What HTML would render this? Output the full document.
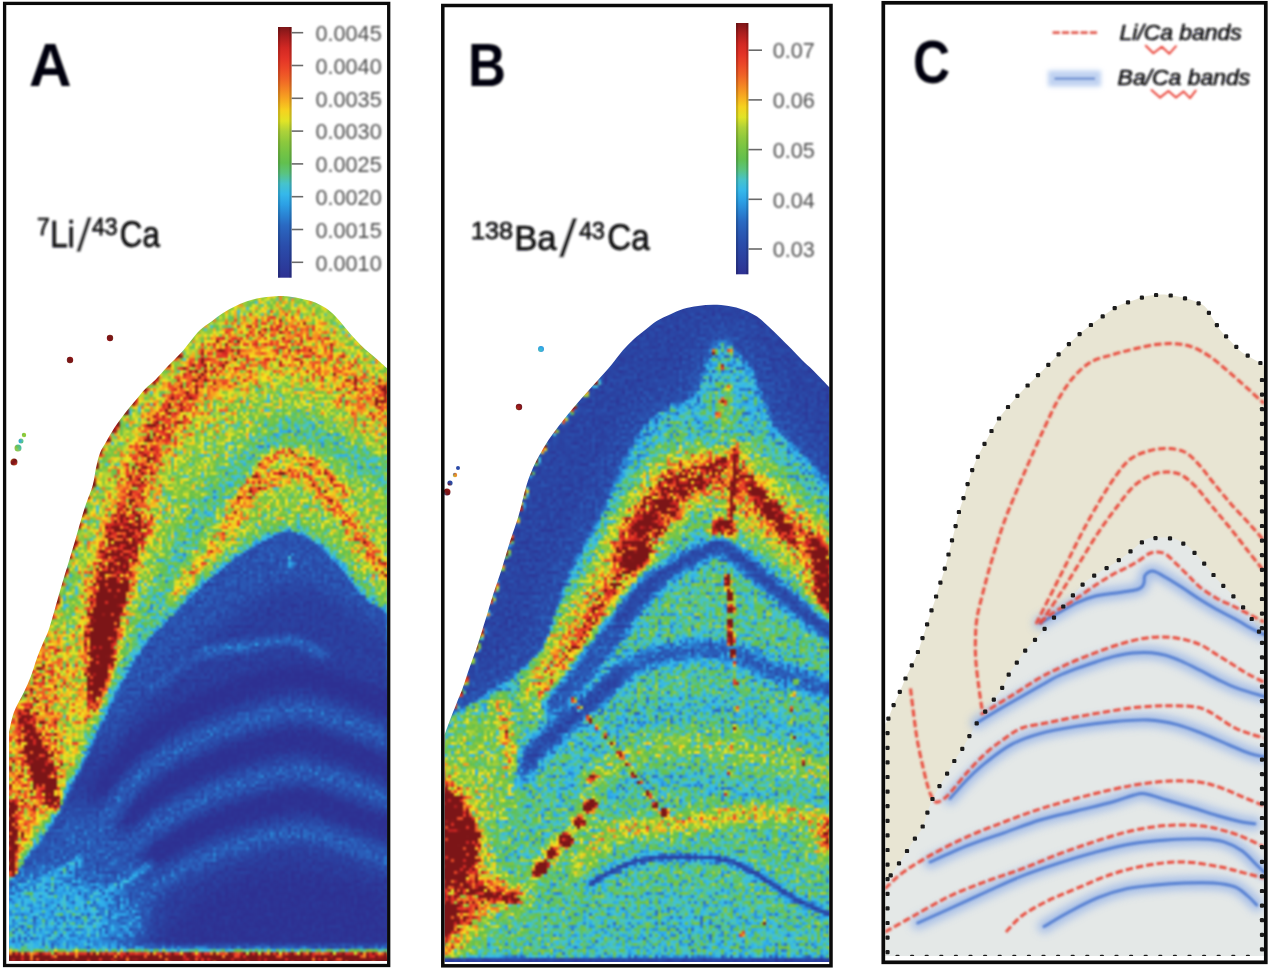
<!DOCTYPE html>
<html lang="en">
<head>
<meta charset="utf-8">
<title>Li/Ca and Ba/Ca maps</title>
<style>
html,body{margin:0;padding:0;background:#fff;}
body{width:1269px;height:970px;overflow:hidden;font-family:"Liberation Sans",sans-serif;}
svg{display:block;}
</style>
</head>
<body>
<svg width="1269" height="970" viewBox="0 0 1269 970">
<defs>
<filter id="soft05" x="-5%" y="-5%" width="110%" height="110%"><feGaussianBlur stdDeviation="0.82"/></filter>
<filter id="soft1" x="-5%" y="-5%" width="110%" height="110%"><feGaussianBlur stdDeviation="0.85"/></filter>
<filter id="glowC" x="-10%" y="-10%" width="120%" height="120%"><feGaussianBlur stdDeviation="4.2"/></filter>
<filter id="glowL" x="-30%" y="-80%" width="160%" height="260%"><feGaussianBlur stdDeviation="2.2"/></filter>
<filter id="txt" x="-5%" y="-5%" width="110%" height="110%"><feGaussianBlur stdDeviation="0.82"/></filter>
<filter id="fab1_0" filterUnits="userSpaceOnUse" x="-40" y="250" width="480" height="760" color-interpolation-filters="sRGB"><feGaussianBlur stdDeviation="1.0"/></filter>
<filter id="fab7_0" filterUnits="userSpaceOnUse" x="-40" y="250" width="480" height="760" color-interpolation-filters="sRGB"><feGaussianBlur stdDeviation="7.0"/></filter>
<filter id="fab4_0" filterUnits="userSpaceOnUse" x="-40" y="250" width="480" height="760" color-interpolation-filters="sRGB"><feGaussianBlur stdDeviation="4.0"/></filter>
<filter id="fab12_0" filterUnits="userSpaceOnUse" x="-40" y="250" width="480" height="760" color-interpolation-filters="sRGB"><feGaussianBlur stdDeviation="12.0"/></filter>
<filter id="fab9_0" filterUnits="userSpaceOnUse" x="-40" y="250" width="480" height="760" color-interpolation-filters="sRGB"><feGaussianBlur stdDeviation="9.0"/></filter>
<filter id="fab8_0" filterUnits="userSpaceOnUse" x="-40" y="250" width="480" height="760" color-interpolation-filters="sRGB"><feGaussianBlur stdDeviation="8.0"/></filter>
<filter id="fab6_0" filterUnits="userSpaceOnUse" x="-40" y="250" width="480" height="760" color-interpolation-filters="sRGB"><feGaussianBlur stdDeviation="6.0"/></filter>
<filter id="fab4_5" filterUnits="userSpaceOnUse" x="-40" y="250" width="480" height="760" color-interpolation-filters="sRGB"><feGaussianBlur stdDeviation="4.5"/></filter>
<filter id="fab3_0" filterUnits="userSpaceOnUse" x="-40" y="250" width="480" height="760" color-interpolation-filters="sRGB"><feGaussianBlur stdDeviation="3.0"/></filter>
<filter id="fab5_0" filterUnits="userSpaceOnUse" x="-40" y="250" width="480" height="760" color-interpolation-filters="sRGB"><feGaussianBlur stdDeviation="5.0"/></filter>
<filter id="fab2_5" filterUnits="userSpaceOnUse" x="-40" y="250" width="480" height="760" color-interpolation-filters="sRGB"><feGaussianBlur stdDeviation="2.5"/></filter>
<filter id="fab2_0" filterUnits="userSpaceOnUse" x="-40" y="250" width="480" height="760" color-interpolation-filters="sRGB"><feGaussianBlur stdDeviation="2.0"/></filter>
<filter id="fab3_5" filterUnits="userSpaceOnUse" x="-40" y="250" width="480" height="760" color-interpolation-filters="sRGB"><feGaussianBlur stdDeviation="3.5"/></filter>
<filter id="fab10_0" filterUnits="userSpaceOnUse" x="-40" y="250" width="480" height="760" color-interpolation-filters="sRGB"><feGaussianBlur stdDeviation="10.0"/></filter>
<filter id="fab1_2" filterUnits="userSpaceOnUse" x="-40" y="250" width="480" height="760" color-interpolation-filters="sRGB"><feGaussianBlur stdDeviation="1.2"/></filter>
<clipPath id="clipCoreA"><path d="M9 886C9.4 885.3 8.5 886.5 11.6 882C14.7 877.5 22.8 865.7 27.8 858.7C32.8 851.7 37.1 847 41.8 840C46.4 833 51.1 825.5 55.7 817C60.3 808.5 65 798.3 69.6 789C74.2 779.7 78.9 770.2 83.5 761C88.1 751.8 92.8 742.7 97.4 733.5C102 724.3 106.4 714.9 111 705.6C115.6 696.3 120.3 686.3 125 677.8C129.7 669.3 133.5 662.4 139 654.6C144.5 646.8 150.8 638.8 157.8 631C164.8 623.2 173.3 615.7 181 608C188.7 600.3 197.8 590.8 204 585C210.2 579.2 213.3 576.9 218 573C222.7 569.1 227.3 565.3 232 561.8C236.7 558.3 241.3 555.1 246 552C250.7 548.9 255.3 545.6 260 543C264.7 540.4 269.4 538.4 274 536.5C278.6 534.6 283.2 531.8 287.7 531.6C292.2 531.4 296.4 533.6 301 535.5C305.6 537.4 311.2 540 315.5 543C319.8 546 323.1 549.6 327 553.5C330.9 557.4 333.7 560.4 338.7 566.4C343.7 572.4 351.6 583.4 357 589.6C362.4 595.8 366 599.4 371 603.5C376 607.6 384.5 612.2 387.2 614L407.2 981 L-11 981 Z"/></clipPath>
<clipPath id="clipA"><path d="M9 732C9.8 728.7 11.5 718.7 14 712C16.5 705.3 21.2 698 24 692C26.8 686 28.8 681.7 31 676C33.2 670.3 35 663.5 37 658C39 652.5 40.9 648.1 43 643C45.1 637.9 46.6 636.3 49.5 627.5C52.4 618.7 56.9 601.4 60.3 590C63.6 578.6 67.1 567.2 69.6 559C72 550.8 73.2 547.2 75 541C76.8 534.8 78.6 528.2 80.4 522C82.2 515.8 83.9 510.2 86 504C88.1 497.8 91.1 491 92.8 485C94.5 479 94.8 473.3 96 468C97.2 462.7 98.3 457.3 100 453C101.7 448.7 103.6 446.2 106 442C108.4 437.8 111.3 432.6 114.4 427.8C117.5 423 121.3 417.9 124.7 413.4C128.1 408.9 131.6 405.1 135 401C138.4 396.9 142 392.3 145.4 388.7C148.8 385.1 151.9 383.2 155.7 379.4C159.5 375.6 163.9 370.3 168 366C172.1 361.7 176.6 357.8 180.4 353.6C184.2 349.4 187.4 344.9 190.7 341C194 337.1 196.5 333.3 200 330C203.5 326.7 207.7 324.2 211.5 321.4C215.3 318.6 219.1 315.5 223 313C226.9 310.5 230.8 308.4 234.7 306.5C238.6 304.6 242.2 302.9 246.3 301.5C250.4 300.1 255.1 298.8 259.5 298C263.9 297.2 269.3 296.8 272.7 296.5C276.1 296.2 277.8 296.1 280 296C282.2 295.9 282.8 295.8 286 296.2C289.2 296.6 294.8 297.3 299.2 298.2C303.6 299.1 308.1 299.9 312.5 301.5C316.9 303.1 321.8 305.5 325.7 308C329.6 310.5 332.3 313.1 335.6 316.4C338.9 319.7 342.2 324.1 345.5 328C348.8 331.9 352.2 336 355.5 339.6C358.8 343.2 362.1 346.5 365.4 349.5C368.7 352.5 371.7 354.6 375.3 357.8C378.9 361 385.2 366.7 387.2 368.5L387.2 961 L9 961 Z"/><circle cx="110" cy="338" r="3.2"/><circle cx="70" cy="360" r="3.2"/><circle cx="18" cy="448" r="3.5"/><circle cx="14" cy="462" r="3.5"/><circle cx="24" cy="435" r="2.2"/><circle cx="21" cy="441" r="2.5"/></clipPath>
<filter id="jetA" filterUnits="userSpaceOnUse" x="0" y="280" width="400" height="690" color-interpolation-filters="sRGB">
<feTurbulence type="fractalNoise" baseFrequency="0.24" numOctaves="2" seed="4" result="t"/>
<feColorMatrix in="t" type="matrix" values="2.00 0 0 0 -0.50  2.00 0 0 0 -0.50  2.00 0 0 0 -0.50  0 0 0 0 1" result="n"/>
<feComposite in="SourceGraphic" in2="n" operator="arithmetic" k1="0.660" k2="0.670" k3="0.038" k4="-0.019" result="v"/>
<feColorMatrix in="v" type="matrix" values="1 0 0 0 0  1 0 0 0 0  1 0 0 0 0  0 0 0 0 1" result="v1"/>
<feComponentTransfer in="v1" result="c">
<feFuncR type="table" tableValues="0.180 0.175 0.171 0.168 0.166 0.165 0.165 0.165 0.165 0.165 0.165 0.169 0.176 0.201 0.232 0.274 0.322 0.364 0.378 0.413 0.461 0.508 0.578 0.653 0.751 0.882 0.962 0.964 0.967 0.967 0.957 0.947 0.937 0.927 0.918 0.890 0.851 0.812 0.714 0.602 0.490 0.490 0.490 0.490 0.490 0.490 0.490 0.490 0.490 0.490 0.490 0.490 0.490"/>
<feFuncG type="table" tableValues="0.192 0.215 0.238 0.260 0.281 0.302 0.331 0.361 0.392 0.454 0.516 0.582 0.651 0.705 0.745 0.765 0.769 0.767 0.757 0.759 0.769 0.778 0.796 0.816 0.846 0.893 0.885 0.793 0.701 0.611 0.527 0.443 0.367 0.304 0.241 0.200 0.173 0.146 0.125 0.106 0.086 0.086 0.086 0.086 0.086 0.086 0.086 0.086 0.086 0.086 0.086 0.086 0.086"/>
<feFuncB type="table" tableValues="0.573 0.594 0.615 0.634 0.653 0.671 0.695 0.720 0.745 0.788 0.830 0.871 0.910 0.920 0.890 0.802 0.627 0.449 0.341 0.286 0.267 0.247 0.235 0.225 0.199 0.148 0.119 0.121 0.124 0.127 0.136 0.144 0.150 0.153 0.156 0.152 0.143 0.135 0.122 0.108 0.094 0.094 0.094 0.094 0.094 0.094 0.094 0.094 0.094 0.094 0.094 0.094 0.094"/>
</feComponentTransfer>
<feFlood x="1" y="281" width="1" height="1" flood-color="#000" result="px"/>
<feComposite in="px" in2="px" operator="over" x="0" y="280" width="3" height="3" result="cell"/>
<feTile in="cell" result="grid"/>
<feComposite in="c" in2="grid" operator="in" result="samp"/>
<feMorphology in="samp" operator="dilate" radius="1" result="blk"/>
<feGaussianBlur in="blk" stdDeviation="0.95"/>
</filter>
<filter id="fbb1_0" filterUnits="userSpaceOnUse" x="400" y="250" width="480" height="760" color-interpolation-filters="sRGB"><feGaussianBlur stdDeviation="1.0"/></filter>
<filter id="fbb9_0" filterUnits="userSpaceOnUse" x="400" y="250" width="480" height="760" color-interpolation-filters="sRGB"><feGaussianBlur stdDeviation="9.0"/></filter>
<filter id="fbb2_2" filterUnits="userSpaceOnUse" x="400" y="250" width="480" height="760" color-interpolation-filters="sRGB"><feGaussianBlur stdDeviation="2.2"/></filter>
<filter id="fbb7_0" filterUnits="userSpaceOnUse" x="400" y="250" width="480" height="760" color-interpolation-filters="sRGB"><feGaussianBlur stdDeviation="7.0"/></filter>
<filter id="fbb8_0" filterUnits="userSpaceOnUse" x="400" y="250" width="480" height="760" color-interpolation-filters="sRGB"><feGaussianBlur stdDeviation="8.0"/></filter>
<filter id="fbb6_0" filterUnits="userSpaceOnUse" x="400" y="250" width="480" height="760" color-interpolation-filters="sRGB"><feGaussianBlur stdDeviation="6.0"/></filter>
<filter id="fbb4_5" filterUnits="userSpaceOnUse" x="400" y="250" width="480" height="760" color-interpolation-filters="sRGB"><feGaussianBlur stdDeviation="4.5"/></filter>
<filter id="fbb3_0" filterUnits="userSpaceOnUse" x="400" y="250" width="480" height="760" color-interpolation-filters="sRGB"><feGaussianBlur stdDeviation="3.0"/></filter>
<filter id="fbb5_0" filterUnits="userSpaceOnUse" x="400" y="250" width="480" height="760" color-interpolation-filters="sRGB"><feGaussianBlur stdDeviation="5.0"/></filter>
<filter id="fbb2_5" filterUnits="userSpaceOnUse" x="400" y="250" width="480" height="760" color-interpolation-filters="sRGB"><feGaussianBlur stdDeviation="2.5"/></filter>
<filter id="fbb3_5" filterUnits="userSpaceOnUse" x="400" y="250" width="480" height="760" color-interpolation-filters="sRGB"><feGaussianBlur stdDeviation="3.5"/></filter>
<filter id="fbb1_4" filterUnits="userSpaceOnUse" x="400" y="250" width="480" height="760" color-interpolation-filters="sRGB"><feGaussianBlur stdDeviation="1.4"/></filter>
<filter id="fbb3_2" filterUnits="userSpaceOnUse" x="400" y="250" width="480" height="760" color-interpolation-filters="sRGB"><feGaussianBlur stdDeviation="3.2"/></filter>
<filter id="fbb4_0" filterUnits="userSpaceOnUse" x="400" y="250" width="480" height="760" color-interpolation-filters="sRGB"><feGaussianBlur stdDeviation="4.0"/></filter>
<filter id="fbb1_3" filterUnits="userSpaceOnUse" x="400" y="250" width="480" height="760" color-interpolation-filters="sRGB"><feGaussianBlur stdDeviation="1.3"/></filter>
<filter id="fbb2_8" filterUnits="userSpaceOnUse" x="400" y="250" width="480" height="760" color-interpolation-filters="sRGB"><feGaussianBlur stdDeviation="2.8"/></filter>
<filter id="fbb1_6" filterUnits="userSpaceOnUse" x="400" y="250" width="480" height="760" color-interpolation-filters="sRGB"><feGaussianBlur stdDeviation="1.6"/></filter>
<filter id="fbb1_2" filterUnits="userSpaceOnUse" x="400" y="250" width="480" height="760" color-interpolation-filters="sRGB"><feGaussianBlur stdDeviation="1.2"/></filter>
<clipPath id="clipInB"><path d="M440 725C443.7 722.3 453.3 714.8 462 709C470.7 703.2 482.7 696.2 492 690C501.3 683.8 510.3 678 518 672C525.7 666 532.8 660.3 538 654C543.2 647.7 546.1 640.7 549 634C551.9 627.3 553.2 620.5 555.5 613.7C557.8 606.9 560.2 599.5 562.5 593C564.8 586.5 567.1 580.8 569.5 575C571.9 569.2 574.1 563.8 577 558C579.9 552.2 583.4 546.3 587 540C590.6 533.7 594.9 526.7 598.5 520C602.1 513.3 605.5 507 608.5 500C611.5 493 613.7 485 616.5 478C619.3 471 622.2 464.3 625.5 458C628.8 451.7 632.2 445.8 636 440C639.8 434.2 643.7 428 648 423C652.3 418 656.5 413.5 662 410C667.5 406.5 675.2 404.6 681 402C686.8 399.4 693 398.9 696.7 394.6C700.4 390.3 700.5 382.4 703 376C705.5 369.6 708.8 361.7 712 356C715.2 350.3 718.5 343 722 342C725.5 341 729.2 346.7 733 350C736.8 353.3 741.2 357 745 362C748.8 367 752.8 373.3 756 380C759.2 386.7 761 394.5 764 402C767 409.5 769.7 418.5 774 425C778.3 431.5 784 434.8 790 441C796 447.2 802.5 454.2 810 462C817.5 469.8 830.8 483.7 835 488L859.6 992 L414.6 992 Z"/></clipPath>
<clipPath id="clipB"><path d="M444.6 735C445.4 732.7 447.6 726.3 449.6 721C451.6 715.7 454.5 708.5 456.7 703C458.9 697.5 460.7 693.6 462.7 688C464.7 682.4 466.5 676.3 468.9 669.4C471.3 662.5 474.2 654.9 477 646.7C479.8 638.5 482.6 629 485.4 620C488.2 611 490.9 601.6 493.6 593C496.4 584.4 499.2 577 501.9 568.4C504.6 559.8 507.2 550.2 510 541.5C512.8 532.8 515.8 525.1 518.5 516C521.2 506.9 523.7 494.8 526 487C528.3 479.2 530.2 474.3 532.5 469C534.8 463.7 536.8 459.8 539.5 455C542.2 450.2 545.2 445 548.5 440C551.8 435 555.7 430 559.5 425C563.3 420 567.3 415 571.5 410C575.7 405 580.1 400 584.5 395C588.9 390 593.5 385 598 380C602.5 375 607.2 369.9 611.3 365C615.4 360.1 618.9 354.8 622.7 350.5C626.5 346.2 630.2 342.5 634 339C637.8 335.5 641.6 332.7 645.4 329.7C649.2 326.7 652.6 323.5 656.7 321C660.8 318.5 665.6 316.6 670 314.6C674.4 312.6 678.3 310.4 683 309C687.7 307.6 692.9 306.7 698 306C703.1 305.3 708.4 304.8 713.5 304.8C718.6 304.8 723.6 305.1 728.6 306C733.6 306.9 739 308.1 743.7 309.9C748.4 311.6 753 313.8 757 316.5C761 319.2 764.2 322.5 768 326C771.8 329.5 775.9 333.5 779.7 337.3C783.5 341.1 787.3 344.8 791 348.6C794.7 352.4 798.2 356.3 802 360C805.8 363.7 809.1 366.4 813.7 371C818.3 375.6 827 384.8 829.6 387.5L829.6 962 L444.6 962 Z"/><circle cx="519" cy="407" r="3.2"/><circle cx="541" cy="349" r="3"/><circle cx="447" cy="492" r="3.5"/><circle cx="450" cy="483" r="2.6"/><circle cx="455" cy="475" r="2.2"/><circle cx="458" cy="468" r="2"/></clipPath>
<filter id="jetB" filterUnits="userSpaceOnUse" x="430" y="280" width="420" height="700" color-interpolation-filters="sRGB">
<feTurbulence type="fractalNoise" baseFrequency="0.24" numOctaves="2" seed="11" result="t"/>
<feColorMatrix in="t" type="matrix" values="2.00 0 0 0 -0.50  2.00 0 0 0 -0.50  2.00 0 0 0 -0.50  0 0 0 0 1" result="n"/>
<feComposite in="SourceGraphic" in2="n" operator="arithmetic" k1="0.680" k2="0.660" k3="0.046" k4="-0.023" result="v"/>
<feColorMatrix in="v" type="matrix" values="1 0 0 0 0  1 0 0 0 0  1 0 0 0 0  0 0 0 0 1" result="v1"/>
<feComponentTransfer in="v1" result="c">
<feFuncR type="table" tableValues="0.180 0.175 0.171 0.168 0.166 0.165 0.165 0.165 0.165 0.165 0.165 0.169 0.176 0.201 0.232 0.274 0.322 0.364 0.378 0.413 0.461 0.508 0.578 0.653 0.751 0.882 0.962 0.964 0.967 0.967 0.957 0.947 0.937 0.927 0.918 0.890 0.851 0.812 0.714 0.602 0.490 0.490 0.490 0.490 0.490 0.490 0.490 0.490 0.490 0.490 0.490 0.490 0.490"/>
<feFuncG type="table" tableValues="0.192 0.215 0.238 0.260 0.281 0.302 0.331 0.361 0.392 0.454 0.516 0.582 0.651 0.705 0.745 0.765 0.769 0.767 0.757 0.759 0.769 0.778 0.796 0.816 0.846 0.893 0.885 0.793 0.701 0.611 0.527 0.443 0.367 0.304 0.241 0.200 0.173 0.146 0.125 0.106 0.086 0.086 0.086 0.086 0.086 0.086 0.086 0.086 0.086 0.086 0.086 0.086 0.086"/>
<feFuncB type="table" tableValues="0.573 0.594 0.615 0.634 0.653 0.671 0.695 0.720 0.745 0.788 0.830 0.871 0.910 0.920 0.890 0.802 0.627 0.449 0.341 0.286 0.267 0.247 0.235 0.225 0.199 0.148 0.119 0.121 0.124 0.127 0.136 0.144 0.150 0.153 0.156 0.152 0.143 0.135 0.122 0.108 0.094 0.094 0.094 0.094 0.094 0.094 0.094 0.094 0.094 0.094 0.094 0.094 0.094"/>
</feComponentTransfer>
<feFlood x="431" y="281" width="1" height="1" flood-color="#000" result="px"/>
<feComposite in="px" in2="px" operator="over" x="430" y="280" width="3" height="3" result="cell"/>
<feTile in="cell" result="grid"/>
<feComposite in="c" in2="grid" operator="in" result="samp"/>
<feMorphology in="samp" operator="dilate" radius="1" result="blk"/>
<feGaussianBlur in="blk" stdDeviation="0.95"/>
</filter>
</defs>
<rect width="1269" height="970" fill="#fff"/>
<g clip-path="url(#clipA)"><g filter="url(#jetA)">
<rect x="0" y="280" width="400" height="690" fill="#686868"/>
<path d="M0 280H400V970H0Z" fill="#686868"/>
<path d="M0 700 L30 655 L50 625 L64 640 L70 690 L84 740 L100 760 L60 830 L0 900Z" fill="#919191" filter="url(#fab7_0)"/>
<path d="M66 572C67 575 71.3 583.7 72 590C72.7 596.3 70.3 606.7 70 610" fill="none" stroke="#474747" stroke-width="9" stroke-linecap="round" stroke-linejoin="round" filter="url(#fab4_0)"/>
<path d="M185.6 389C188.8 384.8 197.9 371.2 205 364C212.1 356.8 219.7 350.8 228 346C236.3 341.2 245.5 337.5 255 335C264.5 332.5 275 330.7 285 331C295 331.3 305.8 333.7 315 337C324.2 340.3 332.2 345 340 351C347.8 357 354.2 365.3 362 373C369.8 380.7 382.8 393 387 397" fill="none" stroke="#787878" stroke-width="104" stroke-linecap="round" stroke-linejoin="round" filter="url(#fab12_0)"/>
<path d="M98 722C98.2 718.3 98.8 708 99 700C99.2 692 99 683.5 99 674C99 664.5 98.5 653.8 99 643C99.5 632.2 100.5 619.8 102 609C103.5 598.2 105.4 588.8 108 578C110.6 567.2 114.4 554.8 117.5 544C120.6 533.2 123.7 522.8 126.8 513C129.9 503.2 132.4 495.3 136 485C139.6 474.7 143.3 462.3 148.5 451C153.7 439.7 160.8 427.3 167 417C173.2 406.7 179.3 397.8 185.6 389C191.9 380.2 197.9 371.2 205 364C212.1 356.8 219.7 350.8 228 346C236.3 341.2 245.5 337.5 255 335C264.5 332.5 275 330.7 285 331C295 331.3 305.8 333.7 315 337C324.2 340.3 332.2 345 340 351C347.8 357 354.2 365.3 362 373C369.8 380.7 382.8 393 387 397" fill="none" stroke="#858585" stroke-width="50" stroke-linecap="round" stroke-linejoin="round" filter="url(#fab9_0)"/>
<path d="M215 372C220.8 368.7 238.3 356.3 250 352C261.7 347.7 273.3 346 285 346C296.7 346 309.2 348 320 352C330.8 356 338.8 361.3 350 370C361.2 378.7 380.8 398.3 387 404" fill="none" stroke="#8d8d8d" stroke-width="50" stroke-linecap="round" stroke-linejoin="round" filter="url(#fab9_0)"/>
<path d="M167 417C170.1 412.3 179.3 397.8 185.6 389C191.9 380.2 197.9 371.2 205 364C212.1 356.8 219.7 350.8 228 346C236.3 341.2 245.5 337.5 255 335C264.5 332.5 275 330.7 285 331C295 331.3 305.8 333.7 315 337C324.2 340.3 332.2 345 340 351C347.8 357 354.2 365.3 362 373C369.8 380.7 382.8 393 387 397" fill="none" stroke="#8f8f8f" stroke-width="38" stroke-linecap="round" stroke-linejoin="round" filter="url(#fab8_0)"/>
<path d="M114.4 427.8C116.1 425.4 121.3 417.9 124.7 413.4C128.1 408.9 131.6 405.1 135 401C138.4 396.9 142 392.3 145.4 388.7C148.8 385.1 151.9 383.2 155.7 379.4C159.5 375.6 163.9 370.3 168 366C172.1 361.7 176.6 357.8 180.4 353.6C184.2 349.4 187.4 344.9 190.7 341C194 337.1 196.5 333.3 200 330C203.5 326.7 207.7 324.2 211.5 321.4C215.3 318.6 219.1 315.5 223 313C226.9 310.5 230.8 308.4 234.7 306.5C238.6 304.6 242.2 302.9 246.3 301.5C250.4 300.1 255.1 298.8 259.5 298C263.9 297.2 269.3 296.8 272.7 296.5C276.1 296.2 277.8 296.1 280 296C282.2 295.9 282.8 295.8 286 296.2C289.2 296.6 294.8 297.3 299.2 298.2C303.6 299.1 308.1 299.9 312.5 301.5C316.9 303.1 321.8 305.5 325.7 308C329.6 310.5 332.3 313.1 335.6 316.4C338.9 319.7 342.2 324.1 345.5 328C348.8 331.9 352.2 336 355.5 339.6C358.8 343.2 362.1 346.5 365.4 349.5C368.7 352.5 371.7 354.6 375.3 357.8C378.9 361 385.2 366.7 387.2 368.5" fill="none" stroke="#6e6e6e" stroke-width="30" stroke-linecap="round" stroke-linejoin="round" filter="url(#fab6_0)"/>
<path d="M98 722C98.2 718.3 98.8 708 99 700C99.2 692 99 683.5 99 674C99 664.5 98.5 653.8 99 643C99.5 632.2 100.5 619.8 102 609C103.5 598.2 105.4 588.8 108 578C110.6 567.2 114.4 554.8 117.5 544C120.6 533.2 123.7 522.8 126.8 513C129.9 503.2 132.4 495.3 136 485C139.6 474.7 143.3 462.3 148.5 451C153.7 439.7 160.8 427.3 167 417C173.2 406.7 179.3 397.8 185.6 389C191.9 380.2 201.8 368.2 205 364" fill="none" stroke="#a5a5a5" stroke-width="24" stroke-linecap="round" stroke-linejoin="round" filter="url(#fab4_5)"/>
<path d="M185.6 389C188.8 384.8 197.9 371.2 205 364C212.1 356.8 224.2 349 228 346" fill="none" stroke="#9d9d9d" stroke-width="18" stroke-linecap="round" stroke-linejoin="round" filter="url(#fab6_0)"/>
<path d="M112 520C104.5 523.3 109 531.7 107 540C105 548.3 102.3 559.7 100 570C97.7 580.3 94.9 589.8 93 602C91.1 614.2 89.1 629.3 88.7 643C88.3 656.7 89.8 672.8 90.7 684C91.6 695.2 93 703.2 94 710C95 716.8 95.3 725 97 725C98.7 725 101.7 716.8 104 710C106.3 703.2 109.1 695.2 111 684C112.9 672.8 113.3 656.7 115.5 643C117.7 629.3 120.9 614.2 124 602C127.1 589.8 130.7 580.3 134 570C137.3 559.7 141 548.3 144 540C147 531.7 157.3 523.3 152 520C146.7 516.7 119.5 516.7 112 520Z" fill="#c0c0c0" filter="url(#fab4_0)"/>
<path d="M104 585C98.7 589.2 98.1 600.3 96 610C93.9 619.7 92 630.7 91.5 643C91 655.3 92.1 671.2 93 684C93.9 696.8 94.5 720 97 720C99.5 720 105.4 696.8 108 684C110.6 671.2 110.5 655.3 112.5 643C114.5 630.7 117.4 619.7 120 610C122.6 600.3 130.7 589.2 128 585C125.3 580.8 109.3 580.8 104 585Z" fill="#ffffff" filter="url(#fab3_0)"/>
<ellipse cx="386" cy="396" rx="10" ry="16" fill="#b1b1b1" filter="url(#fab5_0)"/>
<path d="M100 735C102 730 107.3 715.5 112 705C116.7 694.5 123 682.8 128 672C133 661.2 137.6 650.5 142 640C146.4 629.5 149.4 620.4 154.6 609C159.8 597.6 166.8 584.2 173 571.8C179.2 559.4 185.6 546 191.8 534.6C198 523.2 202.8 514 210 503.7C217.2 493.4 226.2 482.1 235 472.8C243.8 463.5 253.8 455.5 263 448C272.2 440.5 280.5 429.7 290 428C299.5 426.3 310 433.5 320 438C330 442.5 338.8 448.3 350 455C361.2 461.7 380.8 474.2 387 478" fill="none" stroke="#4e4e4e" stroke-width="24" stroke-linecap="round" stroke-linejoin="round" filter="url(#fab7_0)"/>
<path d="M179.4 596.5C181.5 593.4 186.7 585.2 191.8 578C196.9 570.8 203.8 561.2 210 553C216.2 544.8 224.1 536.2 229 528.5C233.9 520.8 234.9 513.2 239.7 506.6C244.5 500 251.2 493.9 257.8 488.6C264.4 483.3 272.8 477.6 279.4 475C286 472.4 291.5 471.3 297.5 473C303.5 474.7 309.5 480 315.5 485C321.5 490 327.6 496.4 333.6 503C339.6 509.6 345.6 516.9 351.6 524.7C357.6 532.5 363.8 541.8 369.7 550C375.6 558.2 384.1 570 387 574" fill="none" stroke="#7e7e7e" stroke-width="20" stroke-linecap="round" stroke-linejoin="round" filter="url(#fab5_0)"/>
<path d="M238 500.6C240.6 497.5 249.1 488.4 253.6 482C258.1 475.6 259.5 467 265 462C270.5 457 279.4 452.4 286.6 452C293.8 451.6 302 456.6 308 459.7C314 462.8 316.5 465.1 322.7 470.5C328.9 475.9 341.3 488.4 345 492" fill="none" stroke="#9d9d9d" stroke-width="9" stroke-linecap="round" stroke-linejoin="round" filter="url(#fab2_5)"/>
<path d="M229 528.5C230.8 524.9 234.9 513.2 239.7 506.6C244.5 500 251.2 493.9 257.8 488.6C264.4 483.3 272.8 477.6 279.4 475C286 472.4 291.5 471.3 297.5 473C303.5 474.7 309.5 480 315.5 485C321.5 490 327.6 496.4 333.6 503C339.6 509.6 345.6 516.9 351.6 524.7C357.6 532.5 363.8 541.8 369.7 550C375.6 558.2 384.1 570 387 574" fill="none" stroke="#9d9d9d" stroke-width="9" stroke-linecap="round" stroke-linejoin="round" filter="url(#fab2_5)"/>
<path d="M179.4 596.5C181.5 593.4 186.7 585.2 191.8 578C196.9 570.8 203.8 561.2 210 553C216.2 544.8 224.1 536.2 229 528.5C233.9 520.8 237.9 510.2 239.7 506.6" fill="none" stroke="#898989" stroke-width="8" stroke-linecap="round" stroke-linejoin="round" filter="url(#fab3_0)"/>
<path d="M9 886C9.4 885.3 8.5 886.5 11.6 882C14.7 877.5 22.8 865.7 27.8 858.7C32.8 851.7 37.1 847 41.8 840C46.4 833 51.1 825.5 55.7 817C60.3 808.5 65 798.3 69.6 789C74.2 779.7 78.9 770.2 83.5 761C88.1 751.8 92.8 742.7 97.4 733.5C102 724.3 106.4 714.9 111 705.6C115.6 696.3 120.3 686.3 125 677.8C129.7 669.3 133.5 662.4 139 654.6C144.5 646.8 150.8 638.8 157.8 631C164.8 623.2 173.3 615.7 181 608C188.7 600.3 197.8 590.8 204 585C210.2 579.2 213.3 576.9 218 573C222.7 569.1 227.3 565.3 232 561.8C236.7 558.3 241.3 555.1 246 552C250.7 548.9 255.3 545.6 260 543C264.7 540.4 269.4 538.4 274 536.5C278.6 534.6 283.2 531.8 287.7 531.6C292.2 531.4 296.4 533.6 301 535.5C305.6 537.4 311.2 540 315.5 543C319.8 546 323.1 549.6 327 553.5C330.9 557.4 333.7 560.4 338.7 566.4C343.7 572.4 351.6 583.4 357 589.6C362.4 595.8 366 599.4 371 603.5C376 607.6 384.5 612.2 387.2 614" fill="none" stroke="#4b4b4b" stroke-width="16" stroke-linecap="round" stroke-linejoin="round" filter="url(#fab4_0)"/>
<path d="M25 716C26.2 720.3 29.5 733.3 32 742C34.5 750.7 37.3 760 40 768C42.7 776 45.3 783.7 48 790C50.7 796.3 54.7 803.3 56 806" fill="none" stroke="#d8d8d8" stroke-width="14" stroke-linecap="round" stroke-linejoin="round" filter="url(#fab3_0)"/>
<ellipse cx="40" cy="764" rx="10" ry="30" fill="#f5f5f5" transform="rotate(-17 40 764)" filter="url(#fab3_0)"/>
<path d="M11 800 L12 876" fill="none" stroke="#f5f5f5" stroke-width="9" stroke-linecap="butt" stroke-linejoin="round" filter="url(#fab2_0)"/>
<path d="M62 700C63.3 706.7 67.8 728.3 70 740C72.2 751.7 74.2 765 75 770" fill="none" stroke="#727272" stroke-width="12" stroke-linecap="round" stroke-linejoin="round" filter="url(#fab5_0)"/>
<path d="M9 886C9.4 885.3 8.5 886.5 11.6 882C14.7 877.5 22.8 865.7 27.8 858.7C32.8 851.7 37.1 847 41.8 840C46.4 833 51.1 825.5 55.7 817C60.3 808.5 65 798.3 69.6 789C74.2 779.7 78.9 770.2 83.5 761C88.1 751.8 92.8 742.7 97.4 733.5C102 724.3 106.4 714.9 111 705.6C115.6 696.3 120.3 686.3 125 677.8C129.7 669.3 133.5 662.4 139 654.6C144.5 646.8 150.8 638.8 157.8 631C164.8 623.2 173.3 615.7 181 608C188.7 600.3 197.8 590.8 204 585C210.2 579.2 213.3 576.9 218 573C222.7 569.1 227.3 565.3 232 561.8C236.7 558.3 241.3 555.1 246 552C250.7 548.9 255.3 545.6 260 543C264.7 540.4 269.4 538.4 274 536.5C278.6 534.6 283.2 531.8 287.7 531.6C292.2 531.4 296.4 533.6 301 535.5C305.6 537.4 311.2 540 315.5 543C319.8 546 323.1 549.6 327 553.5C330.9 557.4 333.7 560.4 338.7 566.4C343.7 572.4 351.6 583.4 357 589.6C362.4 595.8 366 599.4 371 603.5C376 607.6 384.5 612.2 387.2 614L407.2 981 L-11 981 Z" fill="#0c0c0c" filter="url(#fab2_0)"/>
<g clip-path="url(#clipCoreA)">
<path d="M100 760C108.3 748.3 133.3 710 150 690C166.7 670 175.5 657.5 200 640C224.5 622.5 265 585 297 585C329 585 376.2 630.8 392 640L392 500L100 500Z" fill="#1c1c1c" filter="url(#fab9_0)"/>
<path d="M204 652C211.7 651 235.7 648 250 646C264.3 644 277.5 638.5 290 640C302.5 641.5 319.2 652.5 325 655" fill="none" stroke="#353535" stroke-width="7" stroke-linecap="round" stroke-linejoin="round" filter="url(#fab3_5)"/>
<path d="M150 690C158.3 684.2 183.3 662.5 200 655C216.7 647.5 241.7 646.7 250 645" fill="none" stroke="#272727" stroke-width="8" stroke-linecap="round" stroke-linejoin="round" filter="url(#fab4_0)"/>
<path d="M60 891C63.3 881.8 72.5 853.5 80 836C87.5 818.5 95 801.7 105 786C115 770.3 126.7 754.3 140 742C153.3 729.7 168.3 720.8 185 712C201.7 703.2 221.3 695 240 689C258.7 683 280.3 676.5 297 676C313.7 675.5 324.2 681 340 686C355.8 691 383.3 702.7 392 706" fill="none" stroke="#000000" stroke-width="22" stroke-linecap="round" stroke-linejoin="round" filter="url(#fab6_0)"/>
<path d="M60 955C63.3 945.8 72.5 917.5 80 900C87.5 882.5 95 865.7 105 850C115 834.3 126.7 818.3 140 806C153.3 793.7 168.3 784.8 185 776C201.7 767.2 221.3 759 240 753C258.7 747 280.3 740.5 297 740C313.7 739.5 324.2 745 340 750C355.8 755 383.3 766.7 392 770" fill="none" stroke="#000000" stroke-width="22" stroke-linecap="round" stroke-linejoin="round" filter="url(#fab6_0)"/>
<path d="M60 1015C63.3 1005.8 72.5 977.5 80 960C87.5 942.5 95 925.7 105 910C115 894.3 126.7 878.3 140 866C153.3 853.7 168.3 844.8 185 836C201.7 827.2 221.3 819 240 813C258.7 807 280.3 800.5 297 800C313.7 799.5 324.2 805 340 810C355.8 815 383.3 826.7 392 830" fill="none" stroke="#000000" stroke-width="22" stroke-linecap="round" stroke-linejoin="round" filter="url(#fab6_0)"/>
<path d="M60 925C63.3 915.8 72.5 887.5 80 870C87.5 852.5 95 835.7 105 820C115 804.3 126.7 788.3 140 776C153.3 763.7 168.3 754.8 185 746C201.7 737.2 221.3 729 240 723C258.7 717 280.3 710.5 297 710C313.7 709.5 324.2 715 340 720C355.8 725 383.3 736.7 392 740" fill="none" stroke="#242424" stroke-width="19" stroke-linecap="round" stroke-linejoin="round" filter="url(#fab6_0)"/>
<path d="M60 986C63.3 976.8 72.5 948.5 80 931C87.5 913.5 95 896.7 105 881C115 865.3 126.7 849.3 140 837C153.3 824.7 168.3 815.8 185 807C201.7 798.2 221.3 790 240 784C258.7 778 280.3 771.5 297 771C313.7 770.5 324.2 776 340 781C355.8 786 383.3 797.7 392 801" fill="none" stroke="#242424" stroke-width="19" stroke-linecap="round" stroke-linejoin="round" filter="url(#fab6_0)"/>
<path d="M60 1047C63.3 1037.8 72.5 1009.5 80 992C87.5 974.5 95 957.7 105 942C115 926.3 126.7 910.3 140 898C153.3 885.7 168.3 876.8 185 868C201.7 859.2 221.3 851 240 845C258.7 839 280.3 832.5 297 832C313.7 831.5 324.2 837 340 842C355.8 847 383.3 858.7 392 862" fill="none" stroke="#242424" stroke-width="19" stroke-linecap="round" stroke-linejoin="round" filter="url(#fab6_0)"/>
<path d="M150 965C156.7 955 175 919.5 190 905C205 890.5 222.2 884.2 240 878C257.8 871.8 271.7 866 297 868C322.3 870 376.2 886.3 392 890L392 965Z" fill="#020202" filter="url(#fab9_0)"/>
<path d="M0 880 L30 850 L62 812 L90 800 L120 830 L150 880 L150 930 L100 952 L0 952Z" fill="#212121" filter="url(#fab10_0)"/>
<path d="M0 885 L40 868 L100 880 L140 905 L140 940 L100 952 L0 952Z" fill="#313131" filter="url(#fab8_0)"/>
<path d="M0 895 L40 880 L85 890 L110 912 L100 940 L0 952Z" fill="#3d3d3d" filter="url(#fab6_0)"/>
<path d="M15 935C22.5 931.7 44.2 922.5 60 915C75.8 907.5 95 898.3 110 890C125 881.7 143.3 869.2 150 865" fill="none" stroke="#3f3f3f" stroke-width="7" stroke-linecap="round" stroke-linejoin="round" filter="url(#fab3_0)"/>
<path d="M20 905C25 900.8 40 887.5 50 880C60 872.5 75 863.3 80 860" fill="none" stroke="#434343" stroke-width="8" stroke-linecap="round" stroke-linejoin="round" filter="url(#fab3_0)"/>
<ellipse cx="290" cy="562" rx="3" ry="10" fill="#3b3b3b" filter="url(#fab2_0)"/>
</g>
<path d="M180.4 353.6C178.3 355.7 172.1 361.7 168 366C163.9 370.3 159.5 375.6 155.7 379.4C151.9 383.2 148.8 385.1 145.4 388.7C142 392.3 138.4 396.9 135 401C131.6 405.1 128.1 408.9 124.7 413.4C121.3 417.9 117.5 423 114.4 427.8C111.3 432.6 108.4 437.8 106 442C103.6 446.2 101.7 448.7 100 453C98.3 457.3 97.2 462.7 96 468C94.8 473.3 94.5 479 92.8 485C91.1 491 88.1 497.8 86 504C83.9 510.2 82.2 515.8 80.4 522C78.6 528.2 76.8 534.8 75 541C73.2 547.2 72 550.8 69.6 559C67.1 567.2 63.6 578.6 60.3 590C56.9 601.4 51.3 621.2 49.5 627.5" fill="none" stroke="#f5f5f5" stroke-width="5" stroke-dasharray="9 6 5 10 12 7 4 9" filter="url(#fab1_0)"/>
<path d="M0 950.5H400V975H0Z" fill="#9d9d9d" filter="url(#fab1_2)"/>
<path d="M0 954H400V975H0Z" fill="#e2e2e2" filter="url(#fab1_0)"/>
<path d="M0 945H400V951H0Z" fill="#525252" filter="url(#fab2_0)" opacity="0.5"/>
<circle cx="110" cy="338" r="5" fill="#fff"/>
<circle cx="70" cy="360" r="5" fill="#fff"/>
<circle cx="14" cy="462" r="5" fill="#fff"/>
<circle cx="20" cy="444" r="6" fill="#4e4e4e"/>
</g></g>
<g clip-path="url(#clipB)"><g filter="url(#jetB)">
<rect x="430" y="280" width="420" height="700" fill="#111111"/>
<path d="M430 280H850V980H430Z" fill="#111111"/>
<path d="M440 725C443.7 722.3 453.3 714.8 462 709C470.7 703.2 482.7 696.2 492 690C501.3 683.8 510.3 678 518 672C525.7 666 532.8 660.3 538 654C543.2 647.7 546.1 640.7 549 634C551.9 627.3 553.2 620.5 555.5 613.7C557.8 606.9 560.2 599.5 562.5 593C564.8 586.5 567.1 580.8 569.5 575C571.9 569.2 574.1 563.8 577 558C579.9 552.2 583.4 546.3 587 540C590.6 533.7 594.9 526.7 598.5 520C602.1 513.3 605.5 507 608.5 500C611.5 493 613.7 485 616.5 478C619.3 471 622.2 464.3 625.5 458C628.8 451.7 632.2 445.8 636 440C639.8 434.2 643.7 428 648 423C652.3 418 656.5 413.5 662 410C667.5 406.5 675.2 404.6 681 402C686.8 399.4 693 398.9 696.7 394.6C700.4 390.3 700.5 382.4 703 376C705.5 369.6 708.8 361.7 712 356C715.2 350.3 718.5 343 722 342C725.5 341 729.2 346.7 733 350C736.8 353.3 741.2 357 745 362C748.8 367 752.8 373.3 756 380C759.2 386.7 761 394.5 764 402C767 409.5 769.7 418.5 774 425C778.3 431.5 784 434.8 790 441C796 447.2 802.5 454.2 810 462C817.5 469.8 830.8 483.7 835 488" fill="none" stroke="#191919" stroke-width="40" stroke-linecap="round" stroke-linejoin="round" filter="url(#fbb9_0)"/>
<path d="M440 725C443.7 722.3 453.3 714.8 462 709C470.7 703.2 482.7 696.2 492 690C501.3 683.8 510.3 678 518 672C525.7 666 532.8 660.3 538 654C543.2 647.7 546.1 640.7 549 634C551.9 627.3 553.2 620.5 555.5 613.7C557.8 606.9 560.2 599.5 562.5 593C564.8 586.5 567.1 580.8 569.5 575C571.9 569.2 574.1 563.8 577 558C579.9 552.2 583.4 546.3 587 540C590.6 533.7 594.9 526.7 598.5 520C602.1 513.3 605.5 507 608.5 500C611.5 493 613.7 485 616.5 478C619.3 471 622.2 464.3 625.5 458C628.8 451.7 632.2 445.8 636 440C639.8 434.2 643.7 428 648 423C652.3 418 656.5 413.5 662 410C667.5 406.5 675.2 404.6 681 402C686.8 399.4 693 398.9 696.7 394.6C700.4 390.3 700.5 382.4 703 376C705.5 369.6 708.8 361.7 712 356C715.2 350.3 718.5 343 722 342C725.5 341 729.2 346.7 733 350C736.8 353.3 741.2 357 745 362C748.8 367 752.8 373.3 756 380C759.2 386.7 761 394.5 764 402C767 409.5 769.7 418.5 774 425C778.3 431.5 784 434.8 790 441C796 447.2 802.5 454.2 810 462C817.5 469.8 830.8 483.7 835 488L859.6 992 L414.6 992 Z" fill="#3d3d3d" filter="url(#fbb2_2)"/>
<g clip-path="url(#clipInB)">
<path d="M451 734C454.7 731.3 464.3 723.8 473 718C481.7 712.2 493.7 705.2 503 699C512.3 692.8 521.3 687 529 681C536.7 675 543.8 669.3 549 663C554.2 656.7 557.1 649.7 560 643C562.9 636.3 564.2 629.5 566.5 622.7C568.8 615.9 571.2 608.5 573.5 602C575.8 595.5 578.1 589.8 580.5 584C582.9 578.2 585.1 572.8 588 567C590.9 561.2 594.4 555.3 598 549C601.6 542.7 605.9 535.7 609.5 529C613.1 522.3 616.5 516 619.5 509C622.5 502 624.7 494 627.5 487C630.3 480 633.2 473.3 636.5 467C639.8 460.7 643.2 454.8 647 449C650.8 443.2 654.7 437 659 432C663.3 427 667.5 422.5 673 419C678.5 415.5 683.8 411.2 692 411C700.2 410.8 711.5 418 722 418C732.5 418 747.8 408.3 755 411C762.2 413.7 760.7 427.5 765 434C769.3 440.5 775 443.8 781 450C787 456.2 793.5 463.2 801 471C808.5 478.8 821.8 492.7 826 497L850 980L430 980Z" fill="#515151" filter="url(#fbb7_0)"/>
<path d="M552 690C553.6 686.9 557.9 678.4 561.6 671.4C565.3 664.4 569.5 655.6 574 648C578.5 640.4 583.7 633.5 588.5 626C593.3 618.5 598.4 610.3 603 603C607.6 595.7 611.8 589.8 616 582C620.2 574.2 624.3 564 628 556C631.7 548 633.5 541.7 638 534C642.5 526.3 649.2 517.5 655 510C660.8 502.5 666.8 494.2 672.6 489C678.4 483.8 684.3 481.5 690 479C695.7 476.5 700.1 475.3 706.6 474C713.1 472.7 722.8 468.8 728.7 471C734.6 473.2 735.6 480.2 742 487C748.4 493.8 757.5 503.7 767 512C776.5 520.3 790.5 529.7 799 537C807.5 544.3 813.7 548.5 818 556C822.3 563.5 823.3 572.7 825 582C826.7 591.3 827.5 607 828 612" fill="none" stroke="#686868" stroke-width="66" stroke-linecap="round" stroke-linejoin="round" filter="url(#fbb8_0)"/>
<path d="M552 690C553.6 686.9 557.9 678.4 561.6 671.4C565.3 664.4 569.5 655.6 574 648C578.5 640.4 583.7 633.5 588.5 626C593.3 618.5 598.4 610.3 603 603C607.6 595.7 611.8 589.8 616 582C620.2 574.2 624.3 564 628 556C631.7 548 633.5 541.7 638 534C642.5 526.3 649.2 517.5 655 510C660.8 502.5 666.8 494.2 672.6 489C678.4 483.8 684.3 481.5 690 479C695.7 476.5 700.1 475.3 706.6 474C713.1 472.7 722.8 468.8 728.7 471C734.6 473.2 735.6 480.2 742 487C748.4 493.8 757.5 503.7 767 512C776.5 520.3 790.5 529.7 799 537C807.5 544.3 813.7 548.5 818 556C822.3 563.5 823.3 572.7 825 582C826.7 591.3 827.5 607 828 612" fill="none" stroke="#7e7e7e" stroke-width="46" stroke-linecap="round" stroke-linejoin="round" filter="url(#fbb6_0)"/>
<path d="M638 534C636.3 537.7 631.7 548 628 556C624.3 564 620.2 574.2 616 582C611.8 589.8 607.6 595.7 603 603C598.4 610.3 593.3 618.5 588.5 626C583.7 633.5 578.5 640.4 574 648C569.5 655.6 565.3 664.4 561.6 671.4C557.9 678.4 553.6 686.9 552 690" fill="none" stroke="#959595" stroke-width="18" stroke-linecap="round" stroke-linejoin="round" filter="url(#fbb4_5)"/>
<path d="M628 556C626 560.3 620.2 574.2 616 582C611.8 589.8 607.6 595.7 603 603C598.4 610.3 593.3 618.5 588.5 626C583.7 633.5 576.4 644.3 574 648" fill="none" stroke="#b1b1b1" stroke-width="8" stroke-linecap="round" stroke-linejoin="round" filter="url(#fbb3_0)"/>
<path d="M628 556C629.7 552.3 633.5 541.7 638 534C642.5 526.3 649.2 517.5 655 510C660.8 502.5 666.8 494.2 672.6 489C678.4 483.8 684.3 481.5 690 479C695.7 476.5 700.1 475.3 706.6 474C713.1 472.7 725 471.5 728.7 471" fill="none" stroke="#9d9d9d" stroke-width="32" stroke-linecap="round" stroke-linejoin="round" filter="url(#fbb5_0)"/>
<path d="M628 556C629.7 552.3 633.5 541.7 638 534C642.5 526.3 649.2 517.5 655 510C660.8 502.5 666.8 494.2 672.6 489C678.4 483.8 687.1 480.7 690 479" fill="none" stroke="#bababa" stroke-width="22" stroke-linecap="round" stroke-linejoin="round" filter="url(#fbb5_0)"/>
<path d="M728.7 471C730.9 473.7 735.6 480.2 742 487C748.4 493.8 757.5 503.7 767 512C776.5 520.3 790.5 529.7 799 537C807.5 544.3 813.7 548.5 818 556C822.3 563.5 823.3 572.7 825 582C826.7 591.3 827.5 607 828 612" fill="none" stroke="#999999" stroke-width="24" stroke-linecap="round" stroke-linejoin="round" filter="url(#fbb5_0)"/>
<ellipse cx="636" cy="557" rx="11" ry="18" fill="#ffffff" transform="rotate(30 636 557)" filter="url(#fbb3_0)"/>
<ellipse cx="650" cy="520" rx="8" ry="8" fill="#f5f5f5" filter="url(#fbb2_5)"/>
<ellipse cx="664" cy="505" rx="9" ry="9" fill="#f5f5f5" filter="url(#fbb2_5)"/>
<ellipse cx="640" cy="530" rx="8" ry="8" fill="#f5f5f5" filter="url(#fbb2_5)"/>
<ellipse cx="676" cy="512" rx="6" ry="6" fill="#f5f5f5" filter="url(#fbb2_5)"/>
<ellipse cx="682" cy="490" rx="6" ry="6" fill="#f5f5f5" filter="url(#fbb2_5)"/>
<ellipse cx="700" cy="484" rx="5" ry="5" fill="#f5f5f5" filter="url(#fbb2_5)"/>
<ellipse cx="712" cy="468" rx="5" ry="5" fill="#f5f5f5" filter="url(#fbb2_5)"/>
<ellipse cx="660" cy="530" rx="5" ry="5" fill="#f5f5f5" filter="url(#fbb2_5)"/>
<ellipse cx="724" cy="462" rx="4" ry="4" fill="#f5f5f5" filter="url(#fbb2_5)"/>
<ellipse cx="745" cy="478" rx="4" ry="4" fill="#f5f5f5" filter="url(#fbb2_5)"/>
<path d="M752 484C754.5 487.8 760.7 498.5 767 507C773.3 515.5 786.2 530.3 790 535" fill="none" stroke="#d8d8d8" stroke-width="12" stroke-linecap="round" stroke-linejoin="round" filter="url(#fbb3_5)"/>
<ellipse cx="758" cy="492" rx="5" ry="5" fill="#ffffff" filter="url(#fbb2_5)"/>
<ellipse cx="772" cy="510" rx="6" ry="6" fill="#ffffff" filter="url(#fbb2_5)"/>
<ellipse cx="784" cy="527" rx="5" ry="5" fill="#ffffff" filter="url(#fbb2_5)"/>
<path d="M814 542C815.3 545.8 820 554.7 822 565C824 575.3 825.3 597.5 826 604" fill="none" stroke="#ffffff" stroke-width="13" stroke-linecap="round" stroke-linejoin="round" filter="url(#fbb3_5)"/>
<ellipse cx="722" cy="534" rx="13" ry="15" fill="#ffffff" filter="url(#fbb3_0)"/>
<path d="M700 548 L722 538 L742 548" fill="none" stroke="#d8d8d8" stroke-width="6" stroke-linecap="round" stroke-linejoin="round" filter="url(#fbb2_5)"/>
<path d="M735 425 L735.5 452 L735 480 L730 520" fill="none" stroke="#f5f5f5" stroke-width="4.2" stroke-linecap="round" stroke-linejoin="round" filter="url(#fbb1_4)"/>
<path d="M555 706C558.3 702 568.3 690.3 575 682C581.7 673.7 588.3 664.7 595 656C601.7 647.3 608.3 639 615 630C621.7 621 628.3 610.2 635 602C641.7 593.8 647.5 587.3 655 581C662.5 574.7 671 569.3 680 564C689 558.7 702 552 709 549C716 546 717.1 544.5 722 546C726.9 547.5 729.8 551 738.6 558C747.4 565 763.1 578 775 588C786.9 598 800 610 810 618C820 626 830.8 633 835 636" fill="none" stroke="#3b3b3b" stroke-width="26" stroke-linecap="round" stroke-linejoin="round" filter="url(#fbb5_0)"/>
<path d="M595 656C598.3 651.7 608.3 639 615 630C621.7 621 628.3 610.2 635 602C641.7 593.8 647.5 587.3 655 581C662.5 574.7 671 569.3 680 564C689 558.7 702 552 709 549C716 546 717.1 544.5 722 546C726.9 547.5 729.8 551 738.6 558C747.4 565 763.1 578 775 588C786.9 598 800 610 810 618C820 626 830.8 633 835 636" fill="none" stroke="#141414" stroke-width="13" stroke-linecap="round" stroke-linejoin="round" filter="url(#fbb3_2)"/>
<path d="M555 706C558.3 702 568.3 690.3 575 682C581.7 673.7 588.3 664.7 595 656C601.7 647.3 608.3 639 615 630C621.7 621 628.3 610.2 635 602C641.7 593.8 651.7 584.5 655 581" fill="none" stroke="#161616" stroke-width="17" stroke-linecap="round" stroke-linejoin="round" filter="url(#fbb4_0)"/>
<path d="M555 706C558.3 702 568.3 690.3 575 682C581.7 673.7 588.3 664.7 595 656C601.7 647.3 611.7 634.3 615 630" fill="none" stroke="#212121" stroke-width="12" stroke-linecap="round" stroke-linejoin="round" filter="url(#fbb4_0)"/>
<path d="M515 778C518.3 773.7 527.5 760.3 535 752C542.5 743.7 550.3 736.7 560 728C569.7 719.3 583 709 593 700C603 691 611.3 680.7 620 674C628.7 667.3 635 663.7 645 660C655 656.3 668.3 653.7 680 652C691.7 650.3 704.2 649 715 650C725.8 651 736.2 654.8 745 658C753.8 661.2 758.8 665.3 768 669C777.2 672.7 788.8 676.2 800 680C811.2 683.8 829.2 690 835 692" fill="none" stroke="#3b3b3b" stroke-width="26" stroke-linecap="round" stroke-linejoin="round" filter="url(#fbb6_0)"/>
<path d="M515 778C518.3 773.7 527.5 760.3 535 752C542.5 743.7 550.3 736.7 560 728C569.7 719.3 583 709 593 700C603 691 611.3 680.7 620 674C628.7 667.3 635 663.7 645 660C655 656.3 668.3 653.7 680 652C691.7 650.3 704.2 649 715 650C725.8 651 736.2 654.8 745 658C753.8 661.2 758.8 665.3 768 669C777.2 672.7 788.8 676.2 800 680C811.2 683.8 829.2 690 835 692" fill="none" stroke="#212121" stroke-width="14" stroke-linecap="round" stroke-linejoin="round" filter="url(#fbb4_5)"/>
<path d="M515 778C518.3 773.7 527.5 760.3 535 752C542.5 743.7 550.3 736.7 560 728C569.7 719.3 583 709 593 700C603 691 615.5 678.3 620 674" fill="none" stroke="#141414" stroke-width="14" stroke-linecap="round" stroke-linejoin="round" filter="url(#fbb3_5)"/>
<path d="M560 790C565 783.3 580 760.8 590 750C600 739.2 608.3 731.5 620 725C631.7 718.5 646.7 714.2 660 711C673.3 707.8 687.5 706.2 700 706C712.5 705.8 723.7 707.5 735 710C746.3 712.5 757.2 717.2 768 720.7C778.8 724.2 788.8 727.5 800 731C811.2 734.5 829.2 740.2 835 742" fill="none" stroke="#414141" stroke-width="18" stroke-linecap="round" stroke-linejoin="round" filter="url(#fbb6_0)"/>
<path d="M570 830C575 825 588.3 807.8 600 800C611.7 792.2 625 786.5 640 783C655 779.5 672.2 777 690 779C707.8 781 730.3 791.3 747 795C763.7 798.7 775.3 800.2 790 801C804.7 801.8 827.5 800.2 835 800" fill="none" stroke="#434343" stroke-width="14" stroke-linecap="round" stroke-linejoin="round" filter="url(#fbb5_0)"/>
<path d="M600 775C606.7 771.2 623.3 757.2 640 752C656.7 746.8 680 743.3 700 744C720 744.7 737.5 750.8 760 756C782.5 761.2 822.5 771.8 835 775" fill="none" stroke="#666666" stroke-width="22" stroke-linecap="round" stroke-linejoin="round" filter="url(#fbb7_0)"/>
<path d="M578 868C581.3 863.7 591.2 848.3 598 842C604.8 835.7 608.3 832.6 619 830C629.7 827.4 647.7 828.2 662 826.5C676.3 824.8 690.4 822.1 704.6 820C718.8 817.9 732.9 814.8 747 813.8C761.1 812.8 777 812.4 789 813.8C801 815.2 811.1 819.3 818.8 822C826.5 824.7 832.3 828.7 835 830" fill="none" stroke="#727272" stroke-width="20" stroke-linecap="round" stroke-linejoin="round" filter="url(#fbb5_0)"/>
<path d="M619 830C626.2 829.4 647.7 828.2 662 826.5C676.3 824.8 690.4 822.1 704.6 820C718.8 817.9 732.9 814.8 747 813.8C761.1 812.8 777 812.4 789 813.8C801 815.2 811.1 819.3 818.8 822C826.5 824.7 832.3 828.7 835 830" fill="none" stroke="#7c7c7c" stroke-width="9" stroke-linecap="round" stroke-linejoin="round" filter="url(#fbb3_0)"/>
<path d="M590 884C593.8 881.8 604.5 874.7 612.5 870.9C620.5 867.1 629.5 863.2 638 861C646.5 858.8 652.5 858.1 663.6 857.5C674.7 856.9 692.9 856.7 704.6 857.5C716.3 858.3 723.4 858.5 734 862.5C744.6 866.5 756.7 874.8 768 881.5C779.3 888.2 790.8 896.9 802 902.6C813.2 908.4 829.5 913.8 835 916" fill="none" stroke="#3b3b3b" stroke-width="10" stroke-linecap="round" stroke-linejoin="round" filter="url(#fbb3_0)"/>
<path d="M590 884C593.8 881.8 604.5 874.7 612.5 870.9C620.5 867.1 629.5 863.2 638 861C646.5 858.8 652.5 858.1 663.6 857.5C674.7 856.9 692.9 856.7 704.6 857.5C716.3 858.3 723.4 858.5 734 862.5C744.6 866.5 756.7 874.8 768 881.5C779.3 888.2 790.8 896.9 802 902.6C813.2 908.4 829.5 913.8 835 916" fill="none" stroke="#0c0c0c" stroke-width="4.2" stroke-linecap="round" stroke-linejoin="round" filter="url(#fbb1_3)"/>
<path d="M560 930C570 925 596.7 906.7 620 900C643.3 893.3 676.7 888.3 700 890C723.3 891.7 737.5 900.8 760 910C782.5 919.2 822.5 939.2 835 945L835 980L560 980Z" fill="#494949" filter="url(#fbb9_0)"/>
<path d="M500 703C500.5 707.5 501.7 721.3 503 730C504.3 738.7 507.3 747.7 508 755C508.7 762.3 507.2 770.8 507 774" fill="none" stroke="#858585" stroke-width="16" stroke-linecap="round" stroke-linejoin="round" filter="url(#fbb5_0)"/>
<path d="M504 722C504.7 725.8 507.3 737.8 508 745C508.7 752.2 508 761.7 508 765" fill="none" stroke="#b4b4b4" stroke-width="7" stroke-linecap="round" stroke-linejoin="round" filter="url(#fbb2_5)"/>
<path d="M440 730 L470 700 L500 720 L520 790 L500 830 L440 800Z" fill="#646464" filter="url(#fbb9_0)"/>
<path d="M436 770C440.3 738.5 454.7 770.7 462 776C469.3 781.3 475.7 791 480 802C484.3 813 484.3 830 488 842C491.7 854 494 866 502 874C510 882 533.7 884.3 536 890C538.3 895.7 525 902.2 516 908C507 913.8 491 916.3 482 925C473 933.7 469.7 953.3 462 960C454.3 966.7 440.3 996.7 436 965C431.7 933.3 431.7 801.5 436 770Z" fill="#7a7a7a" filter="url(#fbb8_0)"/>
<path d="M436 784C439.2 757.8 449.8 783.7 455 788C460.2 792.3 464.2 800.3 467 810C469.8 819.7 469.2 834.7 472 846C474.8 857.3 476 870 484 878C492 886 519.7 889.3 520 894C520.3 898.7 495.3 900 486 906C476.7 912 472.3 923.5 464 930C455.7 936.5 440.7 969.3 436 945C431.3 920.7 432.8 810.2 436 784Z" fill="#a5a5a5" filter="url(#fbb5_0)"/>
<path d="M436 796C438.7 783.5 447 792.3 452 795C457 797.7 461.7 805.3 466 812C470.3 818.7 476.3 827.3 478 835C479.7 842.7 478 851.2 476 858C474 864.8 469.3 871.7 466 876C462.7 880.3 459.7 883.3 456 884C452.3 884.7 447.3 882.3 444 880C440.7 877.7 437.3 884 436 870C434.7 856 433.3 808.5 436 796Z" fill="#ffffff" filter="url(#fbb3_2)"/>
<path d="M458 886C463 887.3 478.3 891.8 488 894C497.7 896.2 511.3 898.2 516 899" fill="none" stroke="#e2e2e2" stroke-width="7" stroke-linecap="round" stroke-linejoin="round" filter="url(#fbb2_8)"/>
<path d="M436 898C438 892.3 444.2 897.5 448 900C451.8 902.5 458.2 908 459 913C459.8 918 456.8 926.5 453 930C449.2 933.5 438.8 939.3 436 934C433.2 928.7 434 903.7 436 898Z" fill="#f5f5f5" filter="url(#fbb3_2)"/>
<ellipse cx="828" cy="834" rx="7" ry="18" fill="#ebebeb" filter="url(#fbb3_5)"/>
<ellipse cx="822" cy="836" rx="15" ry="26" fill="#7e7e7e" filter="url(#fbb7_0)" opacity="0.6"/>
<ellipse cx="541" cy="868" rx="11" ry="15" fill="#7e7e7e" transform="rotate(40 541 868)" filter="url(#fbb4_0)" opacity="0.6"/>
<ellipse cx="541" cy="868" rx="6" ry="10" fill="#ffffff" transform="rotate(40 541 868)" filter="url(#fbb1_6)"/>
<ellipse cx="553" cy="852" rx="10" ry="12" fill="#7e7e7e" transform="rotate(40 553 852)" filter="url(#fbb4_0)" opacity="0.6"/>
<ellipse cx="553" cy="852" rx="5" ry="7" fill="#ffffff" transform="rotate(40 553 852)" filter="url(#fbb1_6)"/>
<ellipse cx="566" cy="840" rx="12" ry="12" fill="#7e7e7e" transform="rotate(40 566 840)" filter="url(#fbb4_0)" opacity="0.6"/>
<ellipse cx="566" cy="840" rx="7" ry="7" fill="#ffffff" transform="rotate(40 566 840)" filter="url(#fbb1_6)"/>
<ellipse cx="580" cy="822" rx="10" ry="12" fill="#7e7e7e" transform="rotate(40 580 822)" filter="url(#fbb4_0)" opacity="0.6"/>
<ellipse cx="580" cy="822" rx="5" ry="7" fill="#ffffff" transform="rotate(40 580 822)" filter="url(#fbb1_6)"/>
<ellipse cx="590" cy="806" rx="11" ry="13" fill="#7e7e7e" transform="rotate(40 590 806)" filter="url(#fbb4_0)" opacity="0.6"/>
<ellipse cx="590" cy="806" rx="6" ry="8" fill="#ffffff" transform="rotate(40 590 806)" filter="url(#fbb1_6)"/>
<ellipse cx="592" cy="778" rx="8" ry="10" fill="#7e7e7e" transform="rotate(40 592 778)" filter="url(#fbb4_0)" opacity="0.6"/>
<ellipse cx="592" cy="778" rx="3" ry="5" fill="#ffffff" transform="rotate(40 592 778)" filter="url(#fbb1_6)"/>
<path d="M571 698C575.2 702.7 588.2 717 596 726C603.8 735 610.5 742.2 618 752C625.5 761.8 633.3 774.8 641 785C648.7 795.2 660.2 808.3 664 813" fill="none" stroke="#ffffff" stroke-width="3.4" stroke-dasharray="6 5 4 9 8 6 3 7" filter="url(#fbb1_0)"/>
<path d="M727 575C727.7 580.2 730.5 596.8 731 606C731.5 615.2 729.5 620.7 730 630C730.5 639.3 733.3 656.7 734 662" fill="none" stroke="#ffffff" stroke-width="6" stroke-dasharray="10 3 14 4 8 5" filter="url(#fbb1_0)"/>
<path d="M734 662C734.5 668.3 737.3 685.3 737 700C736.7 714.7 734 733.3 732 750C730 766.7 726.2 791.7 725 800" fill="none" stroke="#ffffff" stroke-width="3" stroke-dasharray="4 14 5 22 3 17" filter="url(#fbb1_0)"/>
<path d="M796 680C795 686.7 789.7 708.3 790 720C790.3 731.7 795.3 741.7 798 750C800.7 758.3 804.7 766.7 806 770" fill="none" stroke="#ffffff" stroke-width="3" stroke-dasharray="4 9 3 12" filter="url(#fbb1_0)"/>
<path d="M740 935 L775 918" fill="none" stroke="#ffffff" stroke-width="3" stroke-dasharray="4 20" filter="url(#fbb1_0)"/>
<ellipse cx="664" cy="813" rx="4" ry="4" fill="#ffffff" filter="url(#fbb1_2)"/>
<ellipse cx="655" cy="806" rx="3" ry="3" fill="#ffffff" filter="url(#fbb1_2)"/>
</g>
<path d="M722 340C726.8 338 730 352.5 735 360C740 367.5 747.8 375 752 385C756.2 395 762 410.8 760 420C758 429.2 750 436.7 740 440C730 443.3 708.3 445 700 440C691.7 435 689 421.3 690 410C691 398.7 700.7 383.7 706 372C711.3 360.3 717.2 342 722 340Z" fill="#414141" filter="url(#fbb6_0)"/>
<path d="M722 380C727 378 732.7 391.7 736 400C739.3 408.3 745.5 422.5 742 430C738.5 437.5 721 448 715 445C709 442 704.8 422.8 706 412C707.2 401.2 717 382 722 380Z" fill="#565656" filter="url(#fbb6_0)"/>
<ellipse cx="714" cy="352" rx="2.2" ry="2.9" fill="#bababa" filter="url(#fbb1_2)"/>
<ellipse cx="730" cy="350" rx="2.2" ry="2.9" fill="#bababa" filter="url(#fbb1_2)"/>
<ellipse cx="722" cy="366" rx="2.5" ry="3.2" fill="#bababa" filter="url(#fbb1_2)"/>
<ellipse cx="728" cy="388" rx="2.5" ry="3.2" fill="#bababa" filter="url(#fbb1_2)"/>
<ellipse cx="723" cy="402" rx="3" ry="3.9" fill="#bababa" filter="url(#fbb1_2)"/>
<ellipse cx="718" cy="414" rx="2.5" ry="3.2" fill="#bababa" filter="url(#fbb1_2)"/>
<path d="M598 380C595.8 382.5 588.9 390 584.5 395C580.1 400 575.7 405 571.5 410C567.3 415 563.3 420 559.5 425C555.7 430 551.8 435 548.5 440C545.2 445 542.2 450.2 539.5 455C536.8 459.8 534.8 463.7 532.5 469C530.2 474.3 528.3 479.2 526 487C523.7 494.8 521.2 506.9 518.5 516C515.8 525.1 512.8 532.8 510 541.5C507.2 550.2 504.6 559.8 501.9 568.4C499.2 577 496.4 584.4 493.6 593C490.9 601.6 488.2 611 485.4 620C482.6 629 479.8 638.5 477 646.7C474.2 654.9 471.3 662.5 468.9 669.4C466.5 676.3 464.7 682.4 462.7 688C460.7 693.6 458.9 697.5 456.7 703C454.5 708.5 450.8 718 449.6 721" fill="none" stroke="#ebebeb" stroke-width="5" stroke-dasharray="7 9 4 14 9 6" filter="url(#fbb1_0)"/>
<path d="M430 957.5H850V980H430Z" fill="#0c0c0c" filter="url(#fbb1_0)"/>
<circle cx="519" cy="407" r="5" fill="#ffffff"/>
<circle cx="541" cy="349" r="5" fill="#3b3b3b"/>
<circle cx="448" cy="490" r="6" fill="#ffffff"/>
<circle cx="457" cy="476" r="5" fill="#898989"/>
</g></g>
<clipPath id="cC"><rect x="885.2" y="4" width="378.8" height="952"/></clipPath>
<g clip-path="url(#cC)">
<path d="M887.5 721C888.4 718.6 891 711.3 893 706.5C895 701.7 897.7 696.5 899.7 692C901.7 687.5 903.1 683.7 905 679.5C906.9 675.3 908.9 671.5 911 667C913.1 662.5 915.1 659.4 917.7 652.5C920.3 645.6 924.4 632.4 926.7 625.4C929 618.4 929.9 615.4 931.4 610.8C932.9 606.2 934.3 602.5 935.7 598C937.1 593.5 938.5 588.5 940 583.7C941.5 578.9 943.3 573.8 944.7 569C946.1 564.2 947.2 559.8 948.4 555C949.6 550.2 950.8 545.3 952 540.5C953.2 535.7 954.4 530.8 955.6 526C956.8 521.2 957.6 516.4 959 511.6C960.4 506.8 962.4 501.8 963.9 497C965.4 492.2 966.5 487.6 968 482.8C969.5 478 971.1 472.8 972.9 468C974.7 463.2 976.8 458.5 979 454C981.2 449.5 983.7 445.2 986 441C988.3 436.8 990.3 432.9 992.7 428.7C995.1 424.5 997.8 419.9 1000.6 416C1003.4 412.1 1006.7 408.6 1009.7 405C1012.7 401.4 1015.4 398 1018.7 394.4C1022 390.8 1025.9 387.2 1029.5 383.6C1033.1 380 1036.7 376.4 1040.3 372.8C1043.9 369.2 1047.4 365.6 1051 362C1054.6 358.4 1058.4 354.6 1062 351C1065.6 347.4 1069.2 343.7 1072.8 340.3C1076.4 336.9 1080 333.6 1083.6 330.6C1087.2 327.6 1090.5 325.2 1094.4 322.3C1098.3 319.4 1103.1 316 1107 313.3C1110.9 310.6 1113.6 308.1 1117.8 306C1122 303.9 1127.5 302.4 1132.3 300.7C1137.1 299 1141.9 297 1146.7 296C1151.5 295 1156.2 294.5 1161 294.5C1165.8 294.5 1170.7 295.1 1175.5 296C1180.3 296.9 1185.2 297.9 1190 299.6C1194.8 301.3 1200.6 302.8 1204.4 306C1208.2 309.2 1210 314.6 1212.7 318.7C1215.4 322.8 1217.5 326.7 1220.6 330.6C1223.7 334.5 1227.9 338.4 1231.4 342C1234.9 345.6 1237.6 349 1241.5 352C1245.4 355 1251.3 357.9 1254.9 360C1258.5 362.1 1261.7 363.8 1263 364.5L1264 366 L1264 956 L885.2 956 L885.2 724 Z" fill="#e8e5d3"/>
<path d="M889.6 876.8C891 874.8 895.2 869 897.9 865C900.6 861 903.3 856.8 906 852.6C908.7 848.4 911.3 844 914 840C916.7 836 919.9 832.6 922 828.4C924.1 824.2 925 819.4 926.7 814.7C928.4 810 930 804.5 932 800C934 795.5 936 792.2 938.6 787.7C941.2 783.2 945 777.5 947.6 773C950.2 768.5 952 764.8 954.5 760.6C957 756.4 960.2 752.3 962.8 748C965.4 743.7 967.6 739.2 970 735C972.4 730.8 973.7 727.8 977 722.8C980.3 717.8 985.7 711 990 705C994.3 699 999.8 691.9 1003 686.7C1006.2 681.5 1006.6 678.2 1009 674C1011.4 669.8 1014.7 665.7 1017.6 661.5C1020.5 657.3 1023.4 652.7 1026.6 648.8C1029.8 644.9 1033.4 641.7 1036.7 638C1040 634.3 1043.3 630.5 1046.5 626.7C1049.7 623 1052.7 619.2 1055.8 615.5C1058.9 611.8 1061.8 608.1 1065 604.4C1068.2 600.6 1071.7 596.7 1075 593C1078.3 589.3 1081.3 585.2 1085 582C1088.7 578.8 1092.8 576.5 1097 573.8C1101.2 571.1 1105.8 568.6 1110 566C1114.2 563.4 1118 560.9 1122 558C1126 555.1 1129.8 551.9 1133.7 548.8C1137.6 545.7 1141.1 541.4 1145.4 539.5C1149.7 537.6 1154.9 537.8 1159.7 537.6C1164.5 537.5 1169.5 537.3 1174 538.6C1178.5 539.9 1183 542.7 1187 545.6C1191 548.5 1194.4 552.4 1197.7 556C1201 559.6 1203.8 563.2 1207 567C1210.2 570.8 1213.5 575.2 1216.8 579C1220.1 582.8 1223.6 586.1 1227 589.6C1230.4 593.1 1233.7 596.3 1237 600C1240.3 603.7 1243.9 607.8 1246.9 611.8C1249.9 615.8 1252.5 619.8 1255 624C1257.5 628.2 1260.6 634.8 1261.7 637L1264 640 L1264 956 L885.2 956 L885.2 880 Z" fill="#e4e8e7"/>
<g fill="none" stroke-linecap="round" stroke-linejoin="round">
<g filter="url(#glowC)" stroke="#93b1e8" stroke-width="13" opacity="0.75">
<path d="M1040 623C1043.1 621.3 1052.4 616.2 1058.6 612.8C1064.8 609.4 1070.8 605.4 1077 602.6C1083.2 599.8 1089.5 597.5 1095.7 596C1101.9 594.5 1107.8 594.2 1114 593.3C1120.2 592.4 1128.3 591.4 1132.8 590.5C1137.3 589.6 1139.1 589 1141 587.7C1142.9 586.5 1143.4 585 1144 583C1144.6 581 1143.9 577.6 1144.8 575.7C1145.7 573.8 1147.8 572.3 1149.5 571.6C1151.2 570.9 1152.2 570.6 1155 571.6C1157.8 572.6 1161.7 575 1166 577.5C1170.3 580 1175.7 583.4 1181 586.8C1186.3 590.2 1191.9 594.3 1197.7 598C1203.5 601.7 1209.8 605.5 1216 609C1222.2 612.5 1228.8 615.6 1235 619C1241.2 622.4 1248.6 626.9 1253.4 629.5C1258.2 632.1 1262.2 633.7 1264 634.5"/>
<path d="M977 722.8C981.5 720.1 993.5 712.6 1004 706.5C1014.5 700.4 1030.9 691.1 1040 686C1049.1 680.9 1052.4 678.7 1058.6 675.8C1064.8 672.9 1070.8 670.7 1077 668.4C1083.2 666.1 1089.5 664 1095.7 662C1101.9 660 1107.8 657.9 1114 656.4C1120.2 654.9 1126.6 653.6 1132.8 653C1139 652.4 1145.8 652.3 1151.3 652.7C1156.8 653.1 1161 654 1166 655.4C1171 656.8 1175.4 658.6 1181 661C1186.6 663.4 1193.4 666.9 1199.6 670C1205.8 673.1 1211.8 676.6 1218 679.6C1224.2 682.6 1229 685.2 1236.7 688C1244.4 690.8 1259.5 695.1 1264 696.5"/>
<path d="M950 798.5C953 795.2 962 784.7 968 778.7C974 772.7 978.8 768.1 986 762.4C993.2 756.7 1002.5 749.2 1011.5 744.4C1020.5 739.6 1029.2 736.6 1040 733.6C1050.8 730.6 1063.9 728.4 1076 726.4C1088.1 724.4 1100.3 722.8 1112.4 721.7C1124.5 720.6 1137.7 719.5 1148.5 720C1159.3 720.5 1168 722.3 1177 724.6C1186 726.9 1194.1 730.3 1202.6 733.6C1211.1 736.9 1220 741.1 1227.8 744.4C1235.6 747.7 1243.5 751.3 1249.5 753.4C1255.5 755.5 1261.6 756.4 1264 757"/>
<path d="M930 862C936.3 859.2 955.7 850.3 968 845.4C980.3 840.5 992 837 1004 832.8C1016 828.6 1028 823.6 1040 820C1052 816.4 1063.9 814 1076 811C1088.1 808 1102.7 804.7 1112.4 802C1122.1 799.3 1128.6 796.4 1134 795C1139.4 793.6 1139.6 793 1145 793.8C1150.4 794.6 1158.7 797.7 1166.5 800C1174.3 802.3 1182.8 804.8 1191.8 807.5C1200.8 810.2 1212.2 814.1 1220.6 816.5C1229 818.9 1236.3 820.8 1242 822C1247.7 823.2 1252.8 823.4 1254.9 823.7"/>
<path d="M917.7 923C923.1 920.6 938.6 913.7 950 908.5C961.4 903.3 974 897.4 986 892C998 886.6 1010 880.8 1022 876C1034 871.2 1046 867.3 1058 863.4C1070 859.5 1081.9 855.8 1094 852.6C1106.1 849.4 1118.4 846.1 1130.5 844C1142.6 841.9 1154.5 840.8 1166.5 840C1178.5 839.2 1193 838.7 1202.6 839C1212.2 839.3 1217.4 839.8 1224 841.8C1230.6 843.8 1236.5 846.9 1242 850.8C1247.5 854.7 1253 861.5 1256.7 865C1260.4 868.5 1262.8 870.8 1264 872"/>
<path d="M1044 926.5C1048.2 924.1 1060 916.8 1069 912C1078 907.2 1088.3 901.6 1098 897.7C1107.7 893.8 1117.3 890.8 1126.9 888.7C1136.5 886.6 1146.1 886 1155.7 885C1165.3 884 1175 883.3 1184.6 883C1194.2 882.7 1205 882.4 1213.4 883C1221.8 883.6 1229.3 884.7 1235 886.9C1240.7 889.1 1244.1 893 1247.7 896C1251.3 899 1255.2 903.5 1256.7 905"/>
</g>
<g filter="url(#soft1)" stroke="#557fd2" stroke-width="2.9">
<path d="M1040 623C1043.1 621.3 1052.4 616.2 1058.6 612.8C1064.8 609.4 1070.8 605.4 1077 602.6C1083.2 599.8 1089.5 597.5 1095.7 596C1101.9 594.5 1107.8 594.2 1114 593.3C1120.2 592.4 1128.3 591.4 1132.8 590.5C1137.3 589.6 1139.1 589 1141 587.7C1142.9 586.5 1143.4 585 1144 583C1144.6 581 1143.9 577.6 1144.8 575.7C1145.7 573.8 1147.8 572.3 1149.5 571.6C1151.2 570.9 1152.2 570.6 1155 571.6C1157.8 572.6 1161.7 575 1166 577.5C1170.3 580 1175.7 583.4 1181 586.8C1186.3 590.2 1191.9 594.3 1197.7 598C1203.5 601.7 1209.8 605.5 1216 609C1222.2 612.5 1228.8 615.6 1235 619C1241.2 622.4 1248.6 626.9 1253.4 629.5C1258.2 632.1 1262.2 633.7 1264 634.5"/>
<path d="M977 722.8C981.5 720.1 993.5 712.6 1004 706.5C1014.5 700.4 1030.9 691.1 1040 686C1049.1 680.9 1052.4 678.7 1058.6 675.8C1064.8 672.9 1070.8 670.7 1077 668.4C1083.2 666.1 1089.5 664 1095.7 662C1101.9 660 1107.8 657.9 1114 656.4C1120.2 654.9 1126.6 653.6 1132.8 653C1139 652.4 1145.8 652.3 1151.3 652.7C1156.8 653.1 1161 654 1166 655.4C1171 656.8 1175.4 658.6 1181 661C1186.6 663.4 1193.4 666.9 1199.6 670C1205.8 673.1 1211.8 676.6 1218 679.6C1224.2 682.6 1229 685.2 1236.7 688C1244.4 690.8 1259.5 695.1 1264 696.5"/>
<path d="M950 798.5C953 795.2 962 784.7 968 778.7C974 772.7 978.8 768.1 986 762.4C993.2 756.7 1002.5 749.2 1011.5 744.4C1020.5 739.6 1029.2 736.6 1040 733.6C1050.8 730.6 1063.9 728.4 1076 726.4C1088.1 724.4 1100.3 722.8 1112.4 721.7C1124.5 720.6 1137.7 719.5 1148.5 720C1159.3 720.5 1168 722.3 1177 724.6C1186 726.9 1194.1 730.3 1202.6 733.6C1211.1 736.9 1220 741.1 1227.8 744.4C1235.6 747.7 1243.5 751.3 1249.5 753.4C1255.5 755.5 1261.6 756.4 1264 757"/>
<path d="M930 862C936.3 859.2 955.7 850.3 968 845.4C980.3 840.5 992 837 1004 832.8C1016 828.6 1028 823.6 1040 820C1052 816.4 1063.9 814 1076 811C1088.1 808 1102.7 804.7 1112.4 802C1122.1 799.3 1128.6 796.4 1134 795C1139.4 793.6 1139.6 793 1145 793.8C1150.4 794.6 1158.7 797.7 1166.5 800C1174.3 802.3 1182.8 804.8 1191.8 807.5C1200.8 810.2 1212.2 814.1 1220.6 816.5C1229 818.9 1236.3 820.8 1242 822C1247.7 823.2 1252.8 823.4 1254.9 823.7"/>
<path d="M917.7 923C923.1 920.6 938.6 913.7 950 908.5C961.4 903.3 974 897.4 986 892C998 886.6 1010 880.8 1022 876C1034 871.2 1046 867.3 1058 863.4C1070 859.5 1081.9 855.8 1094 852.6C1106.1 849.4 1118.4 846.1 1130.5 844C1142.6 841.9 1154.5 840.8 1166.5 840C1178.5 839.2 1193 838.7 1202.6 839C1212.2 839.3 1217.4 839.8 1224 841.8C1230.6 843.8 1236.5 846.9 1242 850.8C1247.5 854.7 1253 861.5 1256.7 865C1260.4 868.5 1262.8 870.8 1264 872"/>
<path d="M1044 926.5C1048.2 924.1 1060 916.8 1069 912C1078 907.2 1088.3 901.6 1098 897.7C1107.7 893.8 1117.3 890.8 1126.9 888.7C1136.5 886.6 1146.1 886 1155.7 885C1165.3 884 1175 883.3 1184.6 883C1194.2 882.7 1205 882.4 1213.4 883C1221.8 883.6 1229.3 884.7 1235 886.9C1240.7 889.1 1244.1 893 1247.7 896C1251.3 899 1255.2 903.5 1256.7 905"/>
</g>
<g stroke="#e94a3b" stroke-width="3" stroke-dasharray="7.5 3" stroke-linecap="butt" filter="url(#soft05)">
<path d="M982 709C981.5 705.6 980 696.2 979 688.5C978 680.8 976.6 670.8 976 663C975.4 655.2 975.2 649.1 975.4 641.6C975.6 634.1 975.5 627.1 977 618C978.5 608.9 981.7 597.5 984.4 587C987.1 576.5 990.1 565.8 993.4 555C996.7 544.2 1000.1 533.2 1004 522.4C1007.9 511.6 1012.8 500.2 1017 490C1021.2 479.8 1025 471.2 1029.5 461C1034 450.8 1039.2 438.9 1044 428.7C1048.8 418.5 1053.2 408.4 1058 400C1062.8 391.6 1067.3 384.3 1072.8 378C1078.3 371.7 1084.2 365.9 1090.8 362C1097.4 358.1 1105.2 356.9 1112.4 354.7C1119.6 352.5 1126.8 350.7 1134 349C1141.2 347.3 1149.1 345.5 1155.7 344.6C1162.3 343.7 1167.7 343.2 1173.7 343.6C1179.7 344 1185.8 344.7 1191.8 346.8C1197.8 348.9 1203.8 352.5 1209.8 356.5C1215.8 360.5 1221.8 365.9 1227.8 371C1233.8 376.1 1239.9 381.6 1245.9 387C1251.9 392.4 1261 400.7 1264 403.4"/>
<path d="M1036 624C1036.7 622.7 1036.9 622.2 1040 616C1043.1 609.8 1049.9 596.6 1054.7 587C1059.5 577.4 1064.2 568.1 1069 558.5C1073.8 548.9 1078.5 539.2 1083.6 529.6C1088.7 520 1094.4 509.8 1099.8 500.8C1105.2 491.8 1110.9 482.6 1116 475.6C1121.1 468.6 1125.1 463.1 1130.5 459C1135.9 454.9 1142.5 452.8 1148.5 451C1154.5 449.2 1160.5 448.3 1166.5 448.5C1172.5 448.7 1179.2 449.3 1184.6 452C1190 454.7 1194.2 459.6 1199 464.7C1203.8 469.8 1208 476.2 1213.4 482.8C1218.8 489.4 1225.4 497.5 1231.4 504.4C1237.4 511.3 1244.1 518 1249.5 524C1254.9 530 1261.6 537.8 1264 540.5"/>
<path d="M1040 624C1040.7 623 1040.3 623.5 1044 618C1047.7 612.5 1056 600.3 1062 591C1068 581.7 1074 571.7 1080 562C1086 552.3 1092 542 1098 533C1104 524 1110 515.8 1116 508C1122 500.2 1128 491.5 1134 486C1140 480.5 1146.6 477.1 1152 474.8C1157.4 472.5 1161.7 472 1166.5 472C1171.3 472 1176.2 472.4 1181 474.8C1185.8 477.2 1190 480.9 1195.4 486.4C1200.8 491.9 1207.4 500.8 1213.4 508C1219.4 515.2 1225.4 522.1 1231.4 529.6C1237.4 537.1 1244.1 546.1 1249.5 553C1254.9 559.9 1261.6 568 1264 571"/>
<path d="M1040 622C1042.7 620.2 1050.4 614.5 1056 611C1061.6 607.5 1066.8 605 1073.4 600.7C1080 596.4 1088.9 589.5 1095.7 585C1102.5 580.5 1108.5 576.9 1114 573.8C1119.5 570.7 1124.7 568.7 1129 566.4C1133.3 564.1 1136.6 562.2 1140 560C1143.4 557.8 1146.7 554.7 1149.5 553.4C1152.3 552.1 1154.2 551.9 1157 552C1159.8 552.1 1162.7 552.2 1166 554.3C1169.3 556.4 1173.3 560.9 1177 564.5C1180.7 568.1 1184.6 572 1188.4 575.7C1192.2 579.4 1195 583.1 1199.6 586.8C1204.2 590.5 1210.1 594.6 1216 598C1221.9 601.4 1228.8 603.9 1235 607C1241.2 610.1 1248.6 614 1253.4 616.5C1258.2 619 1262.2 621.1 1264 622"/>
<path d="M980.8 714.5C985.9 711.4 1001.6 701.8 1011.5 695.7C1021.4 689.6 1032.2 682.2 1040 677.7C1047.8 673.2 1052.4 671.4 1058.6 668.4C1064.8 665.4 1070.8 662.6 1077 660C1083.2 657.4 1089.5 655 1095.7 652.7C1101.9 650.4 1107.8 648 1114 646C1120.2 644 1126.6 642 1132.8 640.6C1139 639.2 1145.1 638 1151.3 637.4C1157.5 636.8 1163.8 636.8 1170 637.3C1176.2 637.8 1182.9 639.1 1188.4 640.6C1193.9 642.1 1198.1 643.5 1203 646C1207.9 648.5 1213 652.3 1218 655.4C1223 658.5 1228 661.6 1233 664.7C1238 667.8 1242.6 671.1 1247.8 674C1253 676.9 1261.3 680.7 1264 682"/>
<path d="M910.5 688.5C911.1 693.2 912.8 708 914 717C915.2 726 916 733.5 917.7 742.6C919.4 751.7 922 763.1 924 771.5C926 779.9 928 787.9 930 793C932 798.1 933.7 800.8 935.7 802C937.7 803.2 939.6 801.5 942 800C944.4 798.5 945.7 797.8 950 793C954.3 788.2 962 778.2 968 771.5C974 764.8 980 758.4 986 753C992 747.6 998 743.2 1004 739C1010 734.8 1014.8 730.7 1022 728C1029.2 725.3 1038.5 724.6 1047.5 722.8C1056.5 721 1066.4 718.8 1076 717C1085.6 715.2 1095.3 713.6 1105 712C1114.7 710.4 1124.3 708.6 1134 707.6C1143.7 706.6 1153.4 706 1163 705.8C1172.6 705.6 1184.6 705.8 1191.8 706.5C1199 707.2 1201.2 707.9 1206 710C1210.8 712.1 1215.8 716 1220.6 719C1225.4 722 1230.2 725.6 1235 728C1239.8 730.4 1244.7 731.9 1249.5 733.6C1254.3 735.3 1261.6 737.3 1264 738"/>
<path d="M885 888.7C888 886 895.2 878.1 903 872.4C910.8 866.7 921.2 860.4 932 854.4C942.8 848.4 956 841.8 968 836.4C980 831 992 826.6 1004 822C1016 817.4 1028 812.9 1040 809C1052 805.1 1063.9 801.8 1076 798.5C1088.1 795.2 1101.6 791.9 1112.4 789.5C1123.2 787.1 1131.4 785.4 1141 784C1150.6 782.6 1160.3 781.3 1170 781C1179.7 780.7 1190.6 780.9 1199 782C1207.4 783.1 1213.4 785.2 1220.6 787.7C1227.8 790.2 1234.8 793.7 1242 796.7C1249.2 799.7 1260.3 804.2 1264 805.7"/>
<path d="M885 932C889.8 929.3 903.2 921.7 914 915.7C924.8 909.7 938 901.7 950 896C962 890.3 974 885.9 986 881.4C998 876.9 1010 873.3 1022 868.8C1034 864.3 1046 858.9 1058 854.4C1070 849.9 1081.9 845.7 1094 841.8C1106.1 837.9 1118.4 833.7 1130.5 831C1142.6 828.3 1154.5 826.3 1166.5 825.5C1178.5 824.7 1191.8 824.8 1202.6 826C1213.4 827.2 1223.6 830.5 1231.4 832.8C1239.2 835.1 1244.1 837.6 1249.5 840C1254.9 842.4 1261.6 845.8 1264 847"/>
<path d="M1006 932C1008.7 929.3 1015.1 920.9 1022 915.7C1028.9 910.5 1038.5 905.5 1047.5 901C1056.5 896.5 1065.2 893.2 1076 888.7C1086.8 884.2 1100.3 878 1112.4 874C1124.5 870 1136.5 867 1148.5 865C1160.5 863 1172.6 861.7 1184.6 862C1196.6 862.3 1211 865.3 1220.6 867C1230.2 868.7 1234.8 870.6 1242 872.4C1249.2 874.2 1260.3 877.1 1264 878"/>
</g>
</g>
<g fill="#1c1c1c">
<rect x="1258.3" y="360.9" width="4.2" height="4.2" rx="1.2"/>
<rect x="1245.6" y="353.6" width="4.2" height="4.2" rx="1.2"/>
<rect x="1234.2" y="344.7" width="4.2" height="4.2" rx="1.2"/>
<rect x="1224" y="334.3" width="4.2" height="4.2" rx="1.2"/>
<rect x="1214.8" y="323" width="4.2" height="4.2" rx="1.2"/>
<rect x="1206.8" y="310.8" width="4.2" height="4.2" rx="1.2"/>
<rect x="1196.5" y="301.3" width="4.2" height="4.2" rx="1.2"/>
<rect x="1182.9" y="296.2" width="4.2" height="4.2" rx="1.2"/>
<rect x="1168.6" y="293.4" width="4.2" height="4.2" rx="1.2"/>
<rect x="1154" y="292.9" width="4.2" height="4.2" rx="1.2"/>
<rect x="1139.8" y="295.5" width="4.2" height="4.2" rx="1.2"/>
<rect x="1125.9" y="300.2" width="4.2" height="4.2" rx="1.2"/>
<rect x="1112.6" y="306" width="4.2" height="4.2" rx="1.2"/>
<rect x="1100.6" y="314.3" width="4.2" height="4.2" rx="1.2"/>
<rect x="1088.8" y="322.9" width="4.2" height="4.2" rx="1.2"/>
<rect x="1077.5" y="332.1" width="4.2" height="4.2" rx="1.2"/>
<rect x="1066.8" y="342" width="4.2" height="4.2" rx="1.2"/>
<rect x="1056.5" y="352.3" width="4.2" height="4.2" rx="1.2"/>
<rect x="1046.2" y="362.7" width="4.2" height="4.2" rx="1.2"/>
<rect x="1035.9" y="373" width="4.2" height="4.2" rx="1.2"/>
<rect x="1025.5" y="383.4" width="4.2" height="4.2" rx="1.2"/>
<rect x="1015.3" y="393.8" width="4.2" height="4.2" rx="1.2"/>
<rect x="1005.9" y="404.9" width="4.2" height="4.2" rx="1.2"/>
<rect x="996.9" y="416.4" width="4.2" height="4.2" rx="1.2"/>
<rect x="989.4" y="428.9" width="4.2" height="4.2" rx="1.2"/>
<rect x="982.4" y="441.7" width="4.2" height="4.2" rx="1.2"/>
<rect x="975.7" y="454.7" width="4.2" height="4.2" rx="1.2"/>
<rect x="970.1" y="468.1" width="4.2" height="4.2" rx="1.2"/>
<rect x="965.5" y="482" width="4.2" height="4.2" rx="1.2"/>
<rect x="961.4" y="496" width="4.2" height="4.2" rx="1.2"/>
<rect x="956.8" y="509.9" width="4.2" height="4.2" rx="1.2"/>
<rect x="953.5" y="524.1" width="4.2" height="4.2" rx="1.2"/>
<rect x="949.9" y="538.3" width="4.2" height="4.2" rx="1.2"/>
<rect x="946.4" y="552.4" width="4.2" height="4.2" rx="1.2"/>
<rect x="942.7" y="566.6" width="4.2" height="4.2" rx="1.2"/>
<rect x="938.3" y="580.5" width="4.2" height="4.2" rx="1.2"/>
<rect x="934" y="594.4" width="4.2" height="4.2" rx="1.2"/>
<rect x="929.4" y="608.3" width="4.2" height="4.2" rx="1.2"/>
<rect x="925" y="622.2" width="4.2" height="4.2" rx="1.2"/>
<rect x="920.4" y="636" width="4.2" height="4.2" rx="1.2"/>
<rect x="915.8" y="649.9" width="4.2" height="4.2" rx="1.2"/>
<rect x="909.7" y="663.2" width="4.2" height="4.2" rx="1.2"/>
<rect x="903.4" y="676.4" width="4.2" height="4.2" rx="1.2"/>
<rect x="897.7" y="689.8" width="4.2" height="4.2" rx="1.2"/>
<rect x="891.5" y="703" width="4.2" height="4.2" rx="1.2"/>
<rect x="886.3" y="716.6" width="4.2" height="4.2" rx="1.2"/>
<rect x="885.4" y="731.1" width="4.2" height="4.2" rx="1.2"/>
<rect x="885.4" y="745.7" width="4.2" height="4.2" rx="1.2"/>
<rect x="885.4" y="760.3" width="4.2" height="4.2" rx="1.2"/>
<rect x="885.4" y="774.9" width="4.2" height="4.2" rx="1.2"/>
<rect x="885.4" y="789.5" width="4.2" height="4.2" rx="1.2"/>
<rect x="885.4" y="804.1" width="4.2" height="4.2" rx="1.2"/>
<rect x="885.4" y="818.7" width="4.2" height="4.2" rx="1.2"/>
<rect x="885.4" y="833.3" width="4.2" height="4.2" rx="1.2"/>
<rect x="885.4" y="847.9" width="4.2" height="4.2" rx="1.2"/>
<rect x="885.4" y="862.5" width="4.2" height="4.2" rx="1.2"/>
<rect x="885.4" y="877.1" width="4.2" height="4.2" rx="1.2"/>
<rect x="885.4" y="891.7" width="4.2" height="4.2" rx="1.2"/>
<rect x="885.4" y="906.3" width="4.2" height="4.2" rx="1.2"/>
<rect x="885.4" y="920.9" width="4.2" height="4.2" rx="1.2"/>
<rect x="885.4" y="935.5" width="4.2" height="4.2" rx="1.2"/>
<rect x="885.4" y="950.1" width="4.2" height="4.2" rx="1.2"/>
<rect x="895.4" y="954.7" width="4.2" height="4.2" rx="1.2"/>
<rect x="910" y="954.7" width="4.2" height="4.2" rx="1.2"/>
<rect x="924.6" y="954.7" width="4.2" height="4.2" rx="1.2"/>
<rect x="939.2" y="954.7" width="4.2" height="4.2" rx="1.2"/>
<rect x="953.8" y="954.7" width="4.2" height="4.2" rx="1.2"/>
<rect x="968.4" y="954.7" width="4.2" height="4.2" rx="1.2"/>
<rect x="983" y="954.7" width="4.2" height="4.2" rx="1.2"/>
<rect x="997.6" y="954.7" width="4.2" height="4.2" rx="1.2"/>
<rect x="1012.2" y="954.7" width="4.2" height="4.2" rx="1.2"/>
<rect x="1026.8" y="954.7" width="4.2" height="4.2" rx="1.2"/>
<rect x="1041.4" y="954.7" width="4.2" height="4.2" rx="1.2"/>
<rect x="1056" y="954.7" width="4.2" height="4.2" rx="1.2"/>
<rect x="1070.6" y="954.7" width="4.2" height="4.2" rx="1.2"/>
<rect x="1085.2" y="954.7" width="4.2" height="4.2" rx="1.2"/>
<rect x="1099.8" y="954.7" width="4.2" height="4.2" rx="1.2"/>
<rect x="1114.4" y="954.7" width="4.2" height="4.2" rx="1.2"/>
<rect x="1129" y="954.7" width="4.2" height="4.2" rx="1.2"/>
<rect x="1143.6" y="954.7" width="4.2" height="4.2" rx="1.2"/>
<rect x="1158.2" y="954.7" width="4.2" height="4.2" rx="1.2"/>
<rect x="1172.8" y="954.7" width="4.2" height="4.2" rx="1.2"/>
<rect x="1187.4" y="954.7" width="4.2" height="4.2" rx="1.2"/>
<rect x="1202" y="954.7" width="4.2" height="4.2" rx="1.2"/>
<rect x="1216.6" y="954.7" width="4.2" height="4.2" rx="1.2"/>
<rect x="1231.2" y="954.7" width="4.2" height="4.2" rx="1.2"/>
<rect x="1245.8" y="954.7" width="4.2" height="4.2" rx="1.2"/>
<rect x="1256.9" y="629.6" width="4.2" height="4.2" rx="1.2"/>
<rect x="1249.6" y="616.9" width="4.2" height="4.2" rx="1.2"/>
<rect x="1241" y="605.2" width="4.2" height="4.2" rx="1.2"/>
<rect x="1231.3" y="594.2" width="4.2" height="4.2" rx="1.2"/>
<rect x="1221.2" y="583.7" width="4.2" height="4.2" rx="1.2"/>
<rect x="1211.4" y="572.9" width="4.2" height="4.2" rx="1.2"/>
<rect x="1202.1" y="561.6" width="4.2" height="4.2" rx="1.2"/>
<rect x="1192.4" y="550.8" width="4.2" height="4.2" rx="1.2"/>
<rect x="1181.2" y="541.5" width="4.2" height="4.2" rx="1.2"/>
<rect x="1167.9" y="536.2" width="4.2" height="4.2" rx="1.2"/>
<rect x="1153.4" y="536.1" width="4.2" height="4.2" rx="1.2"/>
<rect x="1139.8" y="540.2" width="4.2" height="4.2" rx="1.2"/>
<rect x="1128.4" y="549.2" width="4.2" height="4.2" rx="1.2"/>
<rect x="1116.7" y="558" width="4.2" height="4.2" rx="1.2"/>
<rect x="1104.5" y="566" width="4.2" height="4.2" rx="1.2"/>
<rect x="1092.1" y="573.6" width="4.2" height="4.2" rx="1.2"/>
<rect x="1080.5" y="582.5" width="4.2" height="4.2" rx="1.2"/>
<rect x="1070.8" y="593.3" width="4.2" height="4.2" rx="1.2"/>
<rect x="1061.2" y="604.4" width="4.2" height="4.2" rx="1.2"/>
<rect x="1051.9" y="615.6" width="4.2" height="4.2" rx="1.2"/>
<rect x="1042.5" y="626.8" width="4.2" height="4.2" rx="1.2"/>
<rect x="1032.9" y="637.8" width="4.2" height="4.2" rx="1.2"/>
<rect x="1023.1" y="648.6" width="4.2" height="4.2" rx="1.2"/>
<rect x="1014.7" y="660.5" width="4.2" height="4.2" rx="1.2"/>
<rect x="1006.6" y="672.6" width="4.2" height="4.2" rx="1.2"/>
<rect x="1000.1" y="685.7" width="4.2" height="4.2" rx="1.2"/>
<rect x="991.7" y="697.6" width="4.2" height="4.2" rx="1.2"/>
<rect x="983.1" y="709.5" width="4.2" height="4.2" rx="1.2"/>
<rect x="974.6" y="721.3" width="4.2" height="4.2" rx="1.2"/>
<rect x="967.3" y="734" width="4.2" height="4.2" rx="1.2"/>
<rect x="960.2" y="746.7" width="4.2" height="4.2" rx="1.2"/>
<rect x="952.2" y="758.9" width="4.2" height="4.2" rx="1.2"/>
<rect x="945" y="771.6" width="4.2" height="4.2" rx="1.2"/>
<rect x="937.4" y="784.1" width="4.2" height="4.2" rx="1.2"/>
<rect x="930.4" y="796.9" width="4.2" height="4.2" rx="1.2"/>
<rect x="925.3" y="810.6" width="4.2" height="4.2" rx="1.2"/>
<rect x="920.6" y="824.4" width="4.2" height="4.2" rx="1.2"/>
<rect x="912.8" y="836.6" width="4.2" height="4.2" rx="1.2"/>
<rect x="904.9" y="848.9" width="4.2" height="4.2" rx="1.2"/>
<rect x="896.9" y="861.2" width="4.2" height="4.2" rx="1.2"/>
<rect x="888.6" y="873.2" width="4.2" height="4.2" rx="1.2"/>
<rect x="1259.9" y="377.9" width="4.2" height="4.2" rx="1.2"/>
<rect x="1259.9" y="392.5" width="4.2" height="4.2" rx="1.2"/>
<rect x="1259.9" y="407.1" width="4.2" height="4.2" rx="1.2"/>
<rect x="1259.9" y="421.7" width="4.2" height="4.2" rx="1.2"/>
<rect x="1259.9" y="436.3" width="4.2" height="4.2" rx="1.2"/>
<rect x="1259.9" y="450.9" width="4.2" height="4.2" rx="1.2"/>
<rect x="1259.9" y="465.5" width="4.2" height="4.2" rx="1.2"/>
<rect x="1259.9" y="480.1" width="4.2" height="4.2" rx="1.2"/>
<rect x="1259.9" y="494.7" width="4.2" height="4.2" rx="1.2"/>
<rect x="1259.9" y="509.3" width="4.2" height="4.2" rx="1.2"/>
<rect x="1259.9" y="523.9" width="4.2" height="4.2" rx="1.2"/>
<rect x="1259.9" y="538.5" width="4.2" height="4.2" rx="1.2"/>
<rect x="1259.9" y="553.1" width="4.2" height="4.2" rx="1.2"/>
<rect x="1259.9" y="567.7" width="4.2" height="4.2" rx="1.2"/>
<rect x="1259.9" y="582.3" width="4.2" height="4.2" rx="1.2"/>
<rect x="1259.9" y="596.9" width="4.2" height="4.2" rx="1.2"/>
<rect x="1259.9" y="611.5" width="4.2" height="4.2" rx="1.2"/>
<rect x="1259.9" y="626.1" width="4.2" height="4.2" rx="1.2"/>
<rect x="1259.9" y="640.7" width="4.2" height="4.2" rx="1.2"/>
<rect x="1259.9" y="655.3" width="4.2" height="4.2" rx="1.2"/>
<rect x="1259.9" y="669.9" width="4.2" height="4.2" rx="1.2"/>
<rect x="1259.9" y="684.5" width="4.2" height="4.2" rx="1.2"/>
<rect x="1259.9" y="699.1" width="4.2" height="4.2" rx="1.2"/>
<rect x="1259.9" y="713.7" width="4.2" height="4.2" rx="1.2"/>
<rect x="1259.9" y="728.3" width="4.2" height="4.2" rx="1.2"/>
<rect x="1259.9" y="742.9" width="4.2" height="4.2" rx="1.2"/>
<rect x="1259.9" y="757.5" width="4.2" height="4.2" rx="1.2"/>
<rect x="1259.9" y="772.1" width="4.2" height="4.2" rx="1.2"/>
<rect x="1259.9" y="786.7" width="4.2" height="4.2" rx="1.2"/>
<rect x="1259.9" y="801.3" width="4.2" height="4.2" rx="1.2"/>
<rect x="1259.9" y="815.9" width="4.2" height="4.2" rx="1.2"/>
<rect x="1259.9" y="830.5" width="4.2" height="4.2" rx="1.2"/>
<rect x="1259.9" y="845.1" width="4.2" height="4.2" rx="1.2"/>
<rect x="1259.9" y="859.7" width="4.2" height="4.2" rx="1.2"/>
<rect x="1259.9" y="874.3" width="4.2" height="4.2" rx="1.2"/>
<rect x="1259.9" y="888.9" width="4.2" height="4.2" rx="1.2"/>
<rect x="1259.9" y="903.5" width="4.2" height="4.2" rx="1.2"/>
<rect x="1259.9" y="918.1" width="4.2" height="4.2" rx="1.2"/>
<rect x="1259.9" y="932.7" width="4.2" height="4.2" rx="1.2"/>
<rect x="1259.9" y="947.3" width="4.2" height="4.2" rx="1.2"/>
</g>
</g>
<linearGradient id="cbA" x1="0" y1="1" x2="0" y2="0">
<stop offset="0.0000" stop-color="#2e3192"/>
<stop offset="0.0417" stop-color="#2c3b9b"/>
<stop offset="0.0833" stop-color="#2b44a3"/>
<stop offset="0.1250" stop-color="#2a4dab"/>
<stop offset="0.1667" stop-color="#2a5ab5"/>
<stop offset="0.2083" stop-color="#2a69c2"/>
<stop offset="0.2500" stop-color="#2a84d4"/>
<stop offset="0.2917" stop-color="#2ca0e5"/>
<stop offset="0.3333" stop-color="#35b8eb"/>
<stop offset="0.3750" stop-color="#46c3cc"/>
<stop offset="0.4167" stop-color="#5ac47f"/>
<stop offset="0.4583" stop-color="#62c04e"/>
<stop offset="0.5000" stop-color="#75c444"/>
<stop offset="0.5417" stop-color="#8dc93d"/>
<stop offset="0.5833" stop-color="#add239"/>
<stop offset="0.6250" stop-color="#e1e426"/>
<stop offset="0.6667" stop-color="#f6d21f"/>
<stop offset="0.7083" stop-color="#f7ab20"/>
<stop offset="0.7500" stop-color="#f48623"/>
<stop offset="0.7917" stop-color="#f06326"/>
<stop offset="0.8333" stop-color="#ec4827"/>
<stop offset="0.8750" stop-color="#e33327"/>
<stop offset="0.9167" stop-color="#d22823"/>
<stop offset="0.9583" stop-color="#ad1e1e"/>
<stop offset="1.0000" stop-color="#7d1618"/>
</linearGradient>
<rect x="278" y="27" width="13.6" height="250.7" fill="url(#cbA)"/>
<rect x="278" y="27" width="2.2" height="250.7" fill="#000" opacity="0.16"/>
<rect x="289.4" y="27" width="2.2" height="250.7" fill="#000" opacity="0.16"/>
<g stroke="#6a6a6a" stroke-width="1.6">
<line x1="291.6" y1="32.7" x2="303.2" y2="32.7"/>
<line x1="291.6" y1="65.5" x2="303.2" y2="65.5"/>
<line x1="291.6" y1="98.3" x2="303.2" y2="98.3"/>
<line x1="291.6" y1="131.1" x2="303.2" y2="131.1"/>
<line x1="291.6" y1="163.9" x2="303.2" y2="163.9"/>
<line x1="291.6" y1="196.7" x2="303.2" y2="196.7"/>
<line x1="291.6" y1="229.5" x2="303.2" y2="229.5"/>
<line x1="291.6" y1="262.3" x2="303.2" y2="262.3"/>
</g>
<g font-family="'Liberation Sans',sans-serif" font-size="21.6" fill="#4c4c4c" filter="url(#txt)">
<text x="315.6" y="40.9">0.0045</text>
<text x="315.6" y="73.7">0.0040</text>
<text x="315.6" y="106.5">0.0035</text>
<text x="315.6" y="139.3">0.0030</text>
<text x="315.6" y="172.1">0.0025</text>
<text x="315.6" y="204.9">0.0020</text>
<text x="315.6" y="237.7">0.0015</text>
<text x="315.6" y="270.5">0.0010</text>
</g>
<linearGradient id="cbB" x1="0" y1="1" x2="0" y2="0">
<stop offset="0.0000" stop-color="#2e3192"/>
<stop offset="0.0417" stop-color="#2c3b9b"/>
<stop offset="0.0833" stop-color="#2b44a3"/>
<stop offset="0.1250" stop-color="#2a4dab"/>
<stop offset="0.1667" stop-color="#2a5ab5"/>
<stop offset="0.2083" stop-color="#2a69c2"/>
<stop offset="0.2500" stop-color="#2a84d4"/>
<stop offset="0.2917" stop-color="#2ca0e5"/>
<stop offset="0.3333" stop-color="#35b8eb"/>
<stop offset="0.3750" stop-color="#46c3cc"/>
<stop offset="0.4167" stop-color="#5ac47f"/>
<stop offset="0.4583" stop-color="#62c04e"/>
<stop offset="0.5000" stop-color="#75c444"/>
<stop offset="0.5417" stop-color="#8dc93d"/>
<stop offset="0.5833" stop-color="#add239"/>
<stop offset="0.6250" stop-color="#e1e426"/>
<stop offset="0.6667" stop-color="#f6d21f"/>
<stop offset="0.7083" stop-color="#f7ab20"/>
<stop offset="0.7500" stop-color="#f48623"/>
<stop offset="0.7917" stop-color="#f06326"/>
<stop offset="0.8333" stop-color="#ec4827"/>
<stop offset="0.8750" stop-color="#e33327"/>
<stop offset="0.9167" stop-color="#d22823"/>
<stop offset="0.9583" stop-color="#ad1e1e"/>
<stop offset="1.0000" stop-color="#7d1618"/>
</linearGradient>
<rect x="736" y="23" width="12.4" height="251.3" fill="url(#cbB)"/>
<rect x="736" y="23" width="2.2" height="251.3" fill="#000" opacity="0.16"/>
<rect x="746.2" y="23" width="2.2" height="251.3" fill="#000" opacity="0.16"/>
<g stroke="#6a6a6a" stroke-width="1.6">
<line x1="748.4" y1="50.2" x2="762" y2="50.2"/>
<line x1="748.4" y1="99.9" x2="762" y2="99.9"/>
<line x1="748.4" y1="149.6" x2="762" y2="149.6"/>
<line x1="748.4" y1="199.3" x2="762" y2="199.3"/>
<line x1="748.4" y1="249" x2="762" y2="249"/>
</g>
<g font-family="'Liberation Sans',sans-serif" font-size="21.6" fill="#4c4c4c" filter="url(#txt)">
<text x="772.8" y="58.4">0.07</text>
<text x="772.8" y="108.1">0.06</text>
<text x="772.8" y="157.8">0.05</text>
<text x="772.8" y="207.5">0.04</text>
<text x="772.8" y="257.2">0.03</text>
</g>
<g filter="url(#txt)">
<g font-family="'Liberation Sans',sans-serif" font-weight="bold" font-size="61" fill="#06060c">
<text x="28.9" y="85.6" textLength="42.6" lengthAdjust="spacingAndGlyphs">A</text>
<text x="468" y="85.7" textLength="38" lengthAdjust="spacingAndGlyphs">B</text>
<text x="913" y="83.4" textLength="37" lengthAdjust="spacingAndGlyphs">C</text>
</g>
<g font-family="'Liberation Sans',sans-serif" fill="#0c0c10" stroke="#0c0c10" stroke-width="0.75">
<text x="37" y="234.8" font-size="24" textLength="12.6" lengthAdjust="spacingAndGlyphs">7</text>
<text x="50.3" y="246.6" font-size="36.5" textLength="24.6" lengthAdjust="spacingAndGlyphs">Li</text>
<text x="76.0" y="252.4" font-size="48.5" textLength="16" lengthAdjust="spacingAndGlyphs" stroke="#fff" stroke-width="0.5">/</text>
<text x="92" y="234.8" font-size="24" textLength="25.6" lengthAdjust="spacingAndGlyphs">43</text>
<text x="119.8" y="246.6" font-size="36.5" textLength="40" lengthAdjust="spacingAndGlyphs">Ca</text>
<text x="471" y="238.6" font-size="24" textLength="42" lengthAdjust="spacingAndGlyphs">138</text>
<text x="514.2" y="250.4" font-size="35.5" textLength="42.5" lengthAdjust="spacingAndGlyphs">Ba</text>
<text x="558.6" y="256.8" font-size="54" textLength="19.2" lengthAdjust="spacingAndGlyphs" stroke="#fff" stroke-width="0.6">/</text>
<text x="579.3" y="238.6" font-size="24" textLength="25.6" lengthAdjust="spacingAndGlyphs">43</text>
<text x="607.3" y="250.4" font-size="36" textLength="42.5" lengthAdjust="spacingAndGlyphs">Ca</text>
</g>
<path d="M1052.6 32.6H1097" stroke="#e2594e" stroke-width="2.8" stroke-dasharray="7.2 2.1" fill="none"/>
<rect x="1048" y="70.5" width="53" height="16" fill="#bfd2f1" filter="url(#glowL)"/>
<path d="M1054.5 78.7H1095" stroke="#6a8dd0" stroke-width="2.2" fill="none"/>
<g font-family="'Liberation Sans',sans-serif" font-style="italic" font-size="21.5" fill="#0c0c14" stroke="#0c0c14" stroke-width="0.65">
<text x="1119.6" y="40.1" textLength="122" lengthAdjust="spacingAndGlyphs">Li/Ca bands</text>
<text x="1117.6" y="85.3" textLength="132.5" lengthAdjust="spacingAndGlyphs">Ba/Ca bands</text>
</g>
<g fill="none" stroke="#ea4338" stroke-width="2" stroke-linejoin="round" stroke-linecap="round">
<path d="M1145.8 45.8L1153.4 53.3L1161.8 46.7L1169.4 53.7L1176 46.2"/>
<path d="M1151.5 90L1160 97.6L1168.4 91L1176 97.6L1183.5 91.4L1190 98.1L1195.7 90.6"/>
</g>
</g>
<g fill="none" stroke="#0a0a0a">
<rect x="4.6" y="3.4" width="384.1" height="962.1" stroke-width="3.3"/>
<rect x="442.8" y="5.5" width="388.2" height="960.3" stroke-width="3.5"/>
<rect x="883.3" y="2.8" width="382.5" height="959.5" stroke-width="3.7"/>
</g>
</svg>
</body>
</html>
